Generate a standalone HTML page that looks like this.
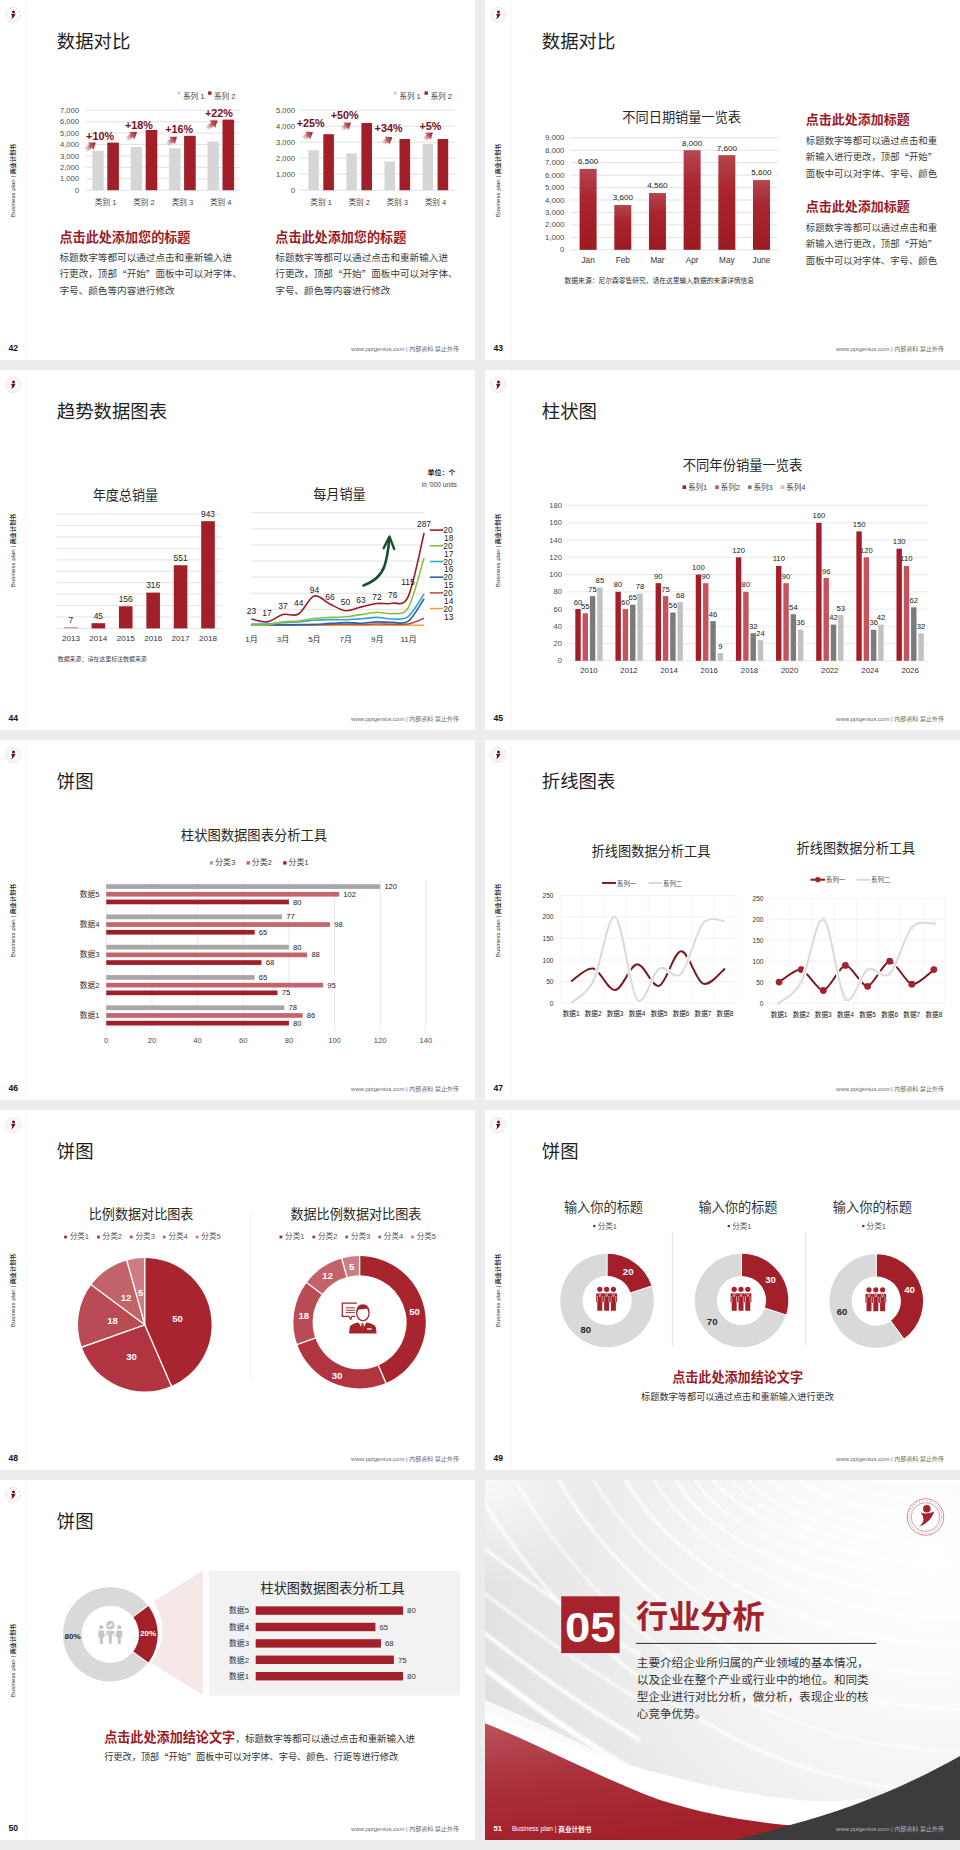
<!DOCTYPE html>
<html><head><meta charset="utf-8"><title>Slides</title>
<style>
html,body{margin:0;padding:0;background:#ececec;}
body{width:960px;height:1850px;overflow:hidden;position:relative;}
svg{position:absolute;left:0;top:0;}
text{font-family:'Liberation Sans','Noto Sans CJK SC',sans-serif;}
</style></head><body>
<svg width="960" height="1850" viewBox="0 0 960 1850">
<defs><linearGradient id="ag1" gradientUnits="userSpaceOnUse" x1="85.0" y1="150.6" x2="95.8" y2="142.6"><stop offset="0" stop-color="#c0505a" stop-opacity="0"/><stop offset="0.5" stop-color="#b63a44" stop-opacity="0.8"/><stop offset="1" stop-color="#8f1820"/></linearGradient><linearGradient id="ag2" gradientUnits="userSpaceOnUse" x1="126.0" y1="139.8" x2="137.0" y2="131.9"><stop offset="0" stop-color="#c0505a" stop-opacity="0"/><stop offset="0.5" stop-color="#b63a44" stop-opacity="0.8"/><stop offset="1" stop-color="#8f1820"/></linearGradient><linearGradient id="ag3" gradientUnits="userSpaceOnUse" x1="166.5" y1="144.6" x2="177.0" y2="136.7"><stop offset="0" stop-color="#c0505a" stop-opacity="0"/><stop offset="0.5" stop-color="#b63a44" stop-opacity="0.8"/><stop offset="1" stop-color="#8f1820"/></linearGradient><linearGradient id="ag4" gradientUnits="userSpaceOnUse" x1="206.0" y1="128.8" x2="217.6" y2="120.6"><stop offset="0" stop-color="#c0505a" stop-opacity="0"/><stop offset="0.5" stop-color="#b63a44" stop-opacity="0.8"/><stop offset="1" stop-color="#8f1820"/></linearGradient><linearGradient id="ag5" gradientUnits="userSpaceOnUse" x1="302.5" y1="138.5" x2="313.0" y2="132.3"><stop offset="0" stop-color="#c0505a" stop-opacity="0"/><stop offset="0.5" stop-color="#b63a44" stop-opacity="0.8"/><stop offset="1" stop-color="#8f1820"/></linearGradient><linearGradient id="ag6" gradientUnits="userSpaceOnUse" x1="341.5" y1="129.5" x2="351.0" y2="122.7"><stop offset="0" stop-color="#c0505a" stop-opacity="0"/><stop offset="0.5" stop-color="#b63a44" stop-opacity="0.8"/><stop offset="1" stop-color="#8f1820"/></linearGradient><linearGradient id="ag7" gradientUnits="userSpaceOnUse" x1="382.3" y1="143.3" x2="392.4" y2="137.3"><stop offset="0" stop-color="#c0505a" stop-opacity="0"/><stop offset="0.5" stop-color="#b63a44" stop-opacity="0.8"/><stop offset="1" stop-color="#8f1820"/></linearGradient><linearGradient id="ag8" gradientUnits="userSpaceOnUse" x1="423.8" y1="139.8" x2="432.8" y2="132.5"><stop offset="0" stop-color="#c0505a" stop-opacity="0"/><stop offset="0.5" stop-color="#b63a44" stop-opacity="0.8"/><stop offset="1" stop-color="#8f1820"/></linearGradient><linearGradient id="bar43" x1="0" y1="0" x2="0" y2="1"><stop offset="0" stop-color="#b4464f"/><stop offset="0.35" stop-color="#a9262f"/><stop offset="1" stop-color="#9d1a23"/></linearGradient><radialGradient id="bg51" cx="930" cy="1560" r="470" gradientUnits="userSpaceOnUse"><stop offset="0" stop-color="#ffffff"/><stop offset="0.3" stop-color="#fafafa"/><stop offset="0.65" stop-color="#eeeeee"/><stop offset="1" stop-color="#e0e0e0"/></radialGradient><linearGradient id="red51" x1="0" y1="0" x2="0.35" y2="1"><stop offset="0" stop-color="#b9525a"/><stop offset="0.5" stop-color="#aa303a"/><stop offset="1" stop-color="#a2202a"/></linearGradient><linearGradient id="wsw" x1="0" y1="0" x2="1" y2="0"><stop offset="0" stop-color="#fff" stop-opacity="0.3"/><stop offset="0.5" stop-color="#fff" stop-opacity="1"/><stop offset="1" stop-color="#fff" stop-opacity="1"/></linearGradient><clipPath id="c51"><rect x="485" y="1480" width="475" height="360"/></clipPath><radialGradient id="tl51" cx="490" cy="1478" r="110" gradientUnits="userSpaceOnUse"><stop offset="0" stop-color="#fafafa" stop-opacity="0.95"/><stop offset="1" stop-color="#fafafa" stop-opacity="0"/></radialGradient><filter id="blur51" x="-10%" y="-10%" width="120%" height="120%"><feGaussianBlur stdDeviation="0.9"/></filter></defs>
<rect x="0" y="0" width="475" height="360" fill="#fff"/><rect x="485" y="0" width="475" height="360" fill="#fff"/><rect x="0" y="370" width="475" height="360" fill="#fff"/><rect x="485" y="370" width="475" height="360" fill="#fff"/><rect x="0" y="740" width="475" height="360" fill="#fff"/><rect x="485" y="740" width="475" height="360" fill="#fff"/><rect x="0" y="1110" width="475" height="360" fill="#fff"/><rect x="485" y="1110" width="475" height="360" fill="#fff"/><rect x="0" y="1480" width="475" height="360" fill="#fff"/><rect x="485" y="1480" width="475" height="360" fill="#fff"/>
<rect x="25.50" y="0.00" width="1.00" height="360.00" fill="#f6f6f6" />
<g><circle cx="13" cy="15" r="7.4" fill="none" stroke="#bfb2b4" stroke-width="0.7" stroke-dasharray="1.1 0.9"/><circle cx="13" cy="15" r="5.4" fill="none" stroke="#e6c6c9" stroke-width="0.4"/><circle cx="13.5" cy="11.9" r="1.5" fill="#6e1017"/><path d="M10.8 13.7 Q13 14.6 15.6 13.5 Q14.2 18.2 10.7 19.4 Q13.3 17 10.8 13.7Z" fill="#74131a"/></g>
<text transform="translate(12,180.5) rotate(-90)" font-size="6.1" fill="#333" text-anchor="middle" dominant-baseline="central" font-family="'Liberation Sans','Noto Sans CJK SC',sans-serif">Business plan | <tspan font-weight="bold">商业计划书</tspan></text>
<text x="56.8" y="41.6" font-size="18.4" fill="#1e1e1e" text-anchor="start" dominant-baseline="central" >数据对比</text>
<text x="8.5" y="348.4" font-size="8.6" fill="#111" text-anchor="start" dominant-baseline="central" font-weight="bold" >42</text>
<text x="459.0" y="349.0" font-size="6.0" fill="#6a6a6a" text-anchor="end" dominant-baseline="central" >www.pptgenius.com | 内部资料 禁止外传</text>
<line x1="85.90" y1="190.20" x2="239.60" y2="190.20" stroke="#d9d9d9" stroke-width="0.8" />
<text x="79.0" y="190.2" font-size="7.6" fill="#4a4a4a" text-anchor="end" dominant-baseline="central" >0</text>
<line x1="85.90" y1="178.79" x2="239.60" y2="178.79" stroke="#d9d9d9" stroke-width="0.8" />
<text x="79.0" y="178.8" font-size="7.6" fill="#4a4a4a" text-anchor="end" dominant-baseline="central" >1,000</text>
<line x1="85.90" y1="167.37" x2="239.60" y2="167.37" stroke="#d9d9d9" stroke-width="0.8" />
<text x="79.0" y="167.4" font-size="7.6" fill="#4a4a4a" text-anchor="end" dominant-baseline="central" >2,000</text>
<line x1="85.90" y1="155.96" x2="239.60" y2="155.96" stroke="#d9d9d9" stroke-width="0.8" />
<text x="79.0" y="156.0" font-size="7.6" fill="#4a4a4a" text-anchor="end" dominant-baseline="central" >3,000</text>
<line x1="85.90" y1="144.54" x2="239.60" y2="144.54" stroke="#d9d9d9" stroke-width="0.8" />
<text x="79.0" y="144.5" font-size="7.6" fill="#4a4a4a" text-anchor="end" dominant-baseline="central" >4,000</text>
<line x1="85.90" y1="133.13" x2="239.60" y2="133.13" stroke="#d9d9d9" stroke-width="0.8" />
<text x="79.0" y="133.1" font-size="7.6" fill="#4a4a4a" text-anchor="end" dominant-baseline="central" >5,000</text>
<line x1="85.90" y1="121.71" x2="239.60" y2="121.71" stroke="#d9d9d9" stroke-width="0.8" />
<text x="79.0" y="121.7" font-size="7.6" fill="#4a4a4a" text-anchor="end" dominant-baseline="central" >6,000</text>
<line x1="85.90" y1="110.30" x2="239.60" y2="110.30" stroke="#d9d9d9" stroke-width="0.8" />
<text x="79.0" y="110.3" font-size="7.6" fill="#4a4a4a" text-anchor="end" dominant-baseline="central" >7,000</text>
<rect x="92.30" y="150.80" width="11.40" height="39.40" fill="#d6d6d6" />
<rect x="107.30" y="142.60" width="11.60" height="47.60" fill="#a11f29" />
<text x="105.6" y="202.8" font-size="7.6" fill="#444" text-anchor="middle" dominant-baseline="central" >类别 1</text>
<rect x="130.70" y="147.00" width="11.40" height="43.20" fill="#d6d6d6" />
<rect x="145.70" y="130.00" width="11.60" height="60.20" fill="#a11f29" />
<text x="144.0" y="202.8" font-size="7.6" fill="#444" text-anchor="middle" dominant-baseline="central" >类别 2</text>
<rect x="169.10" y="148.30" width="11.40" height="41.90" fill="#d6d6d6" />
<rect x="184.10" y="135.80" width="11.60" height="54.40" fill="#a11f29" />
<text x="182.4" y="202.8" font-size="7.6" fill="#444" text-anchor="middle" dominant-baseline="central" >类别 3</text>
<rect x="207.50" y="141.50" width="11.40" height="48.70" fill="#d6d6d6" />
<rect x="222.50" y="119.60" width="11.60" height="70.60" fill="#a11f29" />
<text x="220.8" y="202.8" font-size="7.6" fill="#444" text-anchor="middle" dominant-baseline="central" >类别 4</text>
<rect x="177.20" y="91.40" width="3.40" height="3.40" fill="#d6d6d6" />
<text x="182.9" y="96.0" font-size="7.6" fill="#444" text-anchor="start" dominant-baseline="central" >系列 1</text>
<rect x="208.10" y="91.40" width="3.40" height="3.40" fill="#a11f29" />
<text x="214.0" y="96.0" font-size="7.6" fill="#444" text-anchor="start" dominant-baseline="central" >系列 2</text>
<polygon points="86.3,152.4 92.1,148.1 93.6,150.1 95.8,142.6 88.0,142.5 89.5,144.5 83.7,148.8" fill="url(#ag1)"/>
<text x="86.1" y="136.1" font-size="10.8" fill="#7a1019" text-anchor="start" dominant-baseline="central" font-weight="bold" >+10%</text>
<polygon points="127.3,141.6 133.2,137.3 134.7,139.3 137.0,131.9 129.2,131.7 130.7,133.7 124.7,138.0" fill="url(#ag2)"/>
<text x="125.0" y="124.6" font-size="10.8" fill="#7a1019" text-anchor="start" dominant-baseline="central" font-weight="bold" >+18%</text>
<polygon points="167.8,146.4 173.4,142.2 174.9,144.2 177.0,136.7 169.2,136.7 170.7,138.7 165.2,142.8" fill="url(#ag3)"/>
<text x="165.3" y="129.0" font-size="10.8" fill="#7a1019" text-anchor="start" dominant-baseline="central" font-weight="bold" >+16%</text>
<polygon points="207.3,130.6 213.8,126.0 215.3,128.0 217.6,120.6 209.8,120.3 211.3,122.4 204.7,127.0" fill="url(#ag4)"/>
<text x="204.9" y="113.2" font-size="10.8" fill="#7a1019" text-anchor="start" dominant-baseline="central" font-weight="bold" >+22%</text>
<line x1="299.80" y1="190.20" x2="454.70" y2="190.20" stroke="#d9d9d9" stroke-width="0.8" />
<text x="295.0" y="190.2" font-size="7.6" fill="#4a4a4a" text-anchor="end" dominant-baseline="central" >0</text>
<line x1="299.80" y1="174.20" x2="454.70" y2="174.20" stroke="#d9d9d9" stroke-width="0.8" />
<text x="295.0" y="174.2" font-size="7.6" fill="#4a4a4a" text-anchor="end" dominant-baseline="central" >1,000</text>
<line x1="299.80" y1="158.20" x2="454.70" y2="158.20" stroke="#d9d9d9" stroke-width="0.8" />
<text x="295.0" y="158.2" font-size="7.6" fill="#4a4a4a" text-anchor="end" dominant-baseline="central" >2,000</text>
<line x1="299.80" y1="142.20" x2="454.70" y2="142.20" stroke="#d9d9d9" stroke-width="0.8" />
<text x="295.0" y="142.2" font-size="7.6" fill="#4a4a4a" text-anchor="end" dominant-baseline="central" >3,000</text>
<line x1="299.80" y1="126.20" x2="454.70" y2="126.20" stroke="#d9d9d9" stroke-width="0.8" />
<text x="295.0" y="126.2" font-size="7.6" fill="#4a4a4a" text-anchor="end" dominant-baseline="central" >4,000</text>
<line x1="299.80" y1="110.20" x2="454.70" y2="110.20" stroke="#d9d9d9" stroke-width="0.8" />
<text x="295.0" y="110.2" font-size="7.6" fill="#4a4a4a" text-anchor="end" dominant-baseline="central" >5,000</text>
<rect x="308.30" y="150.20" width="10.50" height="40.00" fill="#d6d6d6" />
<rect x="323.30" y="134.20" width="10.60" height="56.00" fill="#a11f29" />
<text x="321.1" y="202.8" font-size="7.6" fill="#444" text-anchor="middle" dominant-baseline="central" >类别 1</text>
<rect x="346.40" y="153.40" width="10.50" height="36.80" fill="#d6d6d6" />
<rect x="361.40" y="123.00" width="10.60" height="67.20" fill="#a11f29" />
<text x="359.2" y="202.8" font-size="7.6" fill="#444" text-anchor="middle" dominant-baseline="central" >类别 2</text>
<rect x="384.50" y="161.40" width="10.50" height="28.80" fill="#d6d6d6" />
<rect x="399.50" y="139.00" width="10.60" height="51.20" fill="#a11f29" />
<text x="397.3" y="202.8" font-size="7.6" fill="#444" text-anchor="middle" dominant-baseline="central" >类别 3</text>
<rect x="422.60" y="143.80" width="10.50" height="46.40" fill="#d6d6d6" />
<rect x="437.60" y="139.00" width="10.60" height="51.20" fill="#a11f29" />
<text x="435.4" y="202.8" font-size="7.6" fill="#444" text-anchor="middle" dominant-baseline="central" >类别 4</text>
<rect x="393.60" y="91.40" width="3.40" height="3.40" fill="#d6d6d6" />
<text x="399.3" y="96.0" font-size="7.6" fill="#444" text-anchor="start" dominant-baseline="central" >系列 1</text>
<rect x="424.50" y="91.40" width="3.40" height="3.40" fill="#a11f29" />
<text x="430.4" y="96.0" font-size="7.6" fill="#444" text-anchor="start" dominant-baseline="central" >系列 2</text>
<polygon points="303.6,140.4 308.8,137.3 310.1,139.5 313.0,132.3 305.3,131.4 306.5,133.6 301.4,136.6" fill="url(#ag5)"/>
<text x="296.7" y="123.0" font-size="10.8" fill="#7a1019" text-anchor="start" dominant-baseline="central" font-weight="bold" >+25%</text>
<polygon points="342.8,131.3 347.2,128.1 348.7,130.1 351.0,122.7 343.2,122.5 344.7,124.5 340.2,127.7" fill="url(#ag6)"/>
<text x="330.8" y="115.0" font-size="10.8" fill="#7a1019" text-anchor="start" dominant-baseline="central" font-weight="bold" >+50%</text>
<polygon points="383.4,145.2 388.2,142.4 389.5,144.5 392.4,137.3 384.7,136.4 385.9,138.6 381.2,141.4" fill="url(#ag7)"/>
<text x="374.6" y="127.7" font-size="10.8" fill="#7a1019" text-anchor="start" dominant-baseline="central" font-weight="bold" >+34%</text>
<polygon points="425.2,141.5 429.4,138.1 430.9,140.1 432.8,132.5 425.0,132.8 426.6,134.7 422.4,138.1" fill="url(#ag8)"/>
<text x="419.4" y="126.4" font-size="10.8" fill="#7a1019" text-anchor="start" dominant-baseline="central" font-weight="bold" >+5%</text>
<text x="59.5" y="237.5" font-size="13.1" fill="#9b1c25" text-anchor="start" dominant-baseline="central" font-weight="bold" >点击此处添加您的标题</text>
<text x="59.5" y="257.2" font-size="9.6" fill="#3c3c3c" text-anchor="start" dominant-baseline="central" >标题数字等都可以通过点击和重新输入进</text>
<text x="59.5" y="273.6" font-size="9.6" fill="#3c3c3c" text-anchor="start" dominant-baseline="central" >行更改，顶部<tspan font-family="'Noto Sans CJK SC',sans-serif">“</tspan>开始<tspan font-family="'Noto Sans CJK SC',sans-serif">”</tspan>面板中可以对字体、</text>
<text x="59.5" y="290.0" font-size="9.6" fill="#3c3c3c" text-anchor="start" dominant-baseline="central" >字号、颜色等内容进行修改</text>
<text x="275.3" y="237.5" font-size="13.1" fill="#9b1c25" text-anchor="start" dominant-baseline="central" font-weight="bold" >点击此处添加您的标题</text>
<text x="275.3" y="257.2" font-size="9.6" fill="#3c3c3c" text-anchor="start" dominant-baseline="central" >标题数字等都可以通过点击和重新输入进</text>
<text x="275.3" y="273.6" font-size="9.6" fill="#3c3c3c" text-anchor="start" dominant-baseline="central" >行更改，顶部<tspan font-family="'Noto Sans CJK SC',sans-serif">“</tspan>开始<tspan font-family="'Noto Sans CJK SC',sans-serif">”</tspan>面板中可以对字体、</text>
<text x="275.3" y="290.0" font-size="9.6" fill="#3c3c3c" text-anchor="start" dominant-baseline="central" >字号、颜色等内容进行修改</text>
<rect x="510.50" y="0.00" width="1.00" height="360.00" fill="#f6f6f6" />
<g><circle cx="498" cy="15" r="7.4" fill="none" stroke="#bfb2b4" stroke-width="0.7" stroke-dasharray="1.1 0.9"/><circle cx="498" cy="15" r="5.4" fill="none" stroke="#e6c6c9" stroke-width="0.4"/><circle cx="498.5" cy="11.9" r="1.5" fill="#6e1017"/><path d="M495.8 13.7 Q498 14.6 500.6 13.5 Q499.2 18.2 495.7 19.4 Q498.3 17 495.8 13.7Z" fill="#74131a"/></g>
<text transform="translate(497,180.5) rotate(-90)" font-size="6.1" fill="#333" text-anchor="middle" dominant-baseline="central" font-family="'Liberation Sans','Noto Sans CJK SC',sans-serif">Business plan | <tspan font-weight="bold">商业计划书</tspan></text>
<text x="541.8" y="41.6" font-size="18.4" fill="#1e1e1e" text-anchor="start" dominant-baseline="central" >数据对比</text>
<text x="493.5" y="348.4" font-size="8.6" fill="#111" text-anchor="start" dominant-baseline="central" font-weight="bold" >43</text>
<text x="944.0" y="349.0" font-size="6.0" fill="#6a6a6a" text-anchor="end" dominant-baseline="central" >www.pptgenius.com | 内部资料 禁止外传</text>
<text x="681.7" y="117.0" font-size="13.2" fill="#262626" text-anchor="middle" dominant-baseline="central" >不同日期销量一览表</text>
<line x1="570.60" y1="249.80" x2="777.80" y2="249.80" stroke="#d9d9d9" stroke-width="0.8" />
<text x="564.4" y="249.8" font-size="7.8" fill="#4a4a4a" text-anchor="end" dominant-baseline="central" >0</text>
<line x1="570.60" y1="237.35" x2="777.80" y2="237.35" stroke="#d9d9d9" stroke-width="0.8" />
<text x="564.4" y="237.4" font-size="7.8" fill="#4a4a4a" text-anchor="end" dominant-baseline="central" >1,000</text>
<line x1="570.60" y1="224.90" x2="777.80" y2="224.90" stroke="#d9d9d9" stroke-width="0.8" />
<text x="564.4" y="224.9" font-size="7.8" fill="#4a4a4a" text-anchor="end" dominant-baseline="central" >2,000</text>
<line x1="570.60" y1="212.45" x2="777.80" y2="212.45" stroke="#d9d9d9" stroke-width="0.8" />
<text x="564.4" y="212.5" font-size="7.8" fill="#4a4a4a" text-anchor="end" dominant-baseline="central" >3,000</text>
<line x1="570.60" y1="200.00" x2="777.80" y2="200.00" stroke="#d9d9d9" stroke-width="0.8" />
<text x="564.4" y="200.0" font-size="7.8" fill="#4a4a4a" text-anchor="end" dominant-baseline="central" >4,000</text>
<line x1="570.60" y1="187.55" x2="777.80" y2="187.55" stroke="#d9d9d9" stroke-width="0.8" />
<text x="564.4" y="187.6" font-size="7.8" fill="#4a4a4a" text-anchor="end" dominant-baseline="central" >5,000</text>
<line x1="570.60" y1="175.10" x2="777.80" y2="175.10" stroke="#d9d9d9" stroke-width="0.8" />
<text x="564.4" y="175.1" font-size="7.8" fill="#4a4a4a" text-anchor="end" dominant-baseline="central" >6,000</text>
<line x1="570.60" y1="162.65" x2="777.80" y2="162.65" stroke="#d9d9d9" stroke-width="0.8" />
<text x="564.4" y="162.7" font-size="7.8" fill="#4a4a4a" text-anchor="end" dominant-baseline="central" >7,000</text>
<line x1="570.60" y1="150.20" x2="777.80" y2="150.20" stroke="#d9d9d9" stroke-width="0.8" />
<text x="564.4" y="150.2" font-size="7.8" fill="#4a4a4a" text-anchor="end" dominant-baseline="central" >8,000</text>
<line x1="570.60" y1="137.75" x2="777.80" y2="137.75" stroke="#d9d9d9" stroke-width="0.8" />
<text x="564.4" y="137.8" font-size="7.8" fill="#4a4a4a" text-anchor="end" dominant-baseline="central" >9,000</text>
<rect x="579.60" y="168.88" width="17.00" height="80.93" fill="url(#bar43)" />
<text x="588.1" y="161.7" font-size="8.1" fill="#222" text-anchor="middle" dominant-baseline="central" >6,500</text>
<text x="588.1" y="260.2" font-size="8.2" fill="#333" text-anchor="middle" dominant-baseline="central" >Jan</text>
<rect x="614.28" y="204.98" width="17.00" height="44.82" fill="url(#bar43)" />
<text x="622.8" y="197.8" font-size="8.1" fill="#222" text-anchor="middle" dominant-baseline="central" >3,600</text>
<text x="622.8" y="260.2" font-size="8.2" fill="#333" text-anchor="middle" dominant-baseline="central" >Feb</text>
<rect x="648.96" y="193.03" width="17.00" height="56.77" fill="url(#bar43)" />
<text x="657.5" y="185.8" font-size="8.1" fill="#222" text-anchor="middle" dominant-baseline="central" >4,560</text>
<text x="657.5" y="260.2" font-size="8.2" fill="#333" text-anchor="middle" dominant-baseline="central" >Mar</text>
<rect x="683.64" y="150.20" width="17.00" height="99.60" fill="url(#bar43)" />
<text x="692.1" y="143.0" font-size="8.1" fill="#222" text-anchor="middle" dominant-baseline="central" >8,000</text>
<text x="692.1" y="260.2" font-size="8.2" fill="#333" text-anchor="middle" dominant-baseline="central" >Apr</text>
<rect x="718.32" y="155.18" width="17.00" height="94.62" fill="url(#bar43)" />
<text x="726.8" y="148.0" font-size="8.1" fill="#222" text-anchor="middle" dominant-baseline="central" >7,600</text>
<text x="726.8" y="260.2" font-size="8.2" fill="#333" text-anchor="middle" dominant-baseline="central" >May</text>
<rect x="753.00" y="180.08" width="17.00" height="69.72" fill="url(#bar43)" />
<text x="761.5" y="172.9" font-size="8.1" fill="#222" text-anchor="middle" dominant-baseline="central" >5,600</text>
<text x="761.5" y="260.2" font-size="8.2" fill="#333" text-anchor="middle" dominant-baseline="central" >June</text>
<text x="564.6" y="280.7" font-size="6.77" fill="#333" text-anchor="start" dominant-baseline="central" >数据来源：尼尔森零售研究，请在这里输入数据的来源详情信息</text>
<text x="805.8" y="119.7" font-size="13.0" fill="#9b1c25" text-anchor="start" dominant-baseline="central" font-weight="bold" >点击此处添加标题</text>
<text x="805.8" y="140.0" font-size="9.4" fill="#3c3c3c" text-anchor="start" dominant-baseline="central" >标题数字等都可以通过点击和重</text>
<text x="805.8" y="156.7" font-size="9.4" fill="#3c3c3c" text-anchor="start" dominant-baseline="central" >新输入进行更改，顶部<tspan font-family="'Noto Sans CJK SC',sans-serif">“</tspan>开始<tspan font-family="'Noto Sans CJK SC',sans-serif">”</tspan></text>
<text x="805.8" y="173.3" font-size="9.4" fill="#3c3c3c" text-anchor="start" dominant-baseline="central" >面板中可以对字体、字号、颜色</text>
<text x="805.8" y="206.7" font-size="13.0" fill="#9b1c25" text-anchor="start" dominant-baseline="central" font-weight="bold" >点击此处添加标题</text>
<text x="805.8" y="227.0" font-size="9.4" fill="#3c3c3c" text-anchor="start" dominant-baseline="central" >标题数字等都可以通过点击和重</text>
<text x="805.8" y="243.7" font-size="9.4" fill="#3c3c3c" text-anchor="start" dominant-baseline="central" >新输入进行更改，顶部<tspan font-family="'Noto Sans CJK SC',sans-serif">“</tspan>开始<tspan font-family="'Noto Sans CJK SC',sans-serif">”</tspan></text>
<text x="805.8" y="260.3" font-size="9.4" fill="#3c3c3c" text-anchor="start" dominant-baseline="central" >面板中可以对字体、字号、颜色</text>
<rect x="25.50" y="370.00" width="1.00" height="360.00" fill="#f6f6f6" />
<g><circle cx="13" cy="385" r="7.4" fill="none" stroke="#bfb2b4" stroke-width="0.7" stroke-dasharray="1.1 0.9"/><circle cx="13" cy="385" r="5.4" fill="none" stroke="#e6c6c9" stroke-width="0.4"/><circle cx="13.5" cy="381.9" r="1.5" fill="#6e1017"/><path d="M10.8 383.7 Q13 384.6 15.6 383.5 Q14.2 388.2 10.7 389.4 Q13.3 387 10.8 383.7Z" fill="#74131a"/></g>
<text transform="translate(12,550.5) rotate(-90)" font-size="6.1" fill="#333" text-anchor="middle" dominant-baseline="central" font-family="'Liberation Sans','Noto Sans CJK SC',sans-serif">Business plan | <tspan font-weight="bold">商业计划书</tspan></text>
<text x="56.8" y="411.6" font-size="18.4" fill="#1e1e1e" text-anchor="start" dominant-baseline="central" >趋势数据图表</text>
<text x="8.5" y="718.4" font-size="8.6" fill="#111" text-anchor="start" dominant-baseline="central" font-weight="bold" >44</text>
<text x="459.0" y="719.0" font-size="6.0" fill="#6a6a6a" text-anchor="end" dominant-baseline="central" >www.pptgenius.com | 内部资料 禁止外传</text>
<text x="125.4" y="495.0" font-size="13.1" fill="#262626" text-anchor="middle" dominant-baseline="central" >年度总销量</text>
<line x1="56.60" y1="628.40" x2="221.60" y2="628.40" stroke="#dcdcdc" stroke-width="0.8" />
<line x1="56.60" y1="616.97" x2="221.60" y2="616.97" stroke="#dcdcdc" stroke-width="0.8" />
<line x1="56.60" y1="605.54" x2="221.60" y2="605.54" stroke="#dcdcdc" stroke-width="0.8" />
<line x1="56.60" y1="594.11" x2="221.60" y2="594.11" stroke="#dcdcdc" stroke-width="0.8" />
<line x1="56.60" y1="582.68" x2="221.60" y2="582.68" stroke="#dcdcdc" stroke-width="0.8" />
<line x1="56.60" y1="571.25" x2="221.60" y2="571.25" stroke="#dcdcdc" stroke-width="0.8" />
<line x1="56.60" y1="559.82" x2="221.60" y2="559.82" stroke="#dcdcdc" stroke-width="0.8" />
<line x1="56.60" y1="548.39" x2="221.60" y2="548.39" stroke="#dcdcdc" stroke-width="0.8" />
<line x1="56.60" y1="536.96" x2="221.60" y2="536.96" stroke="#dcdcdc" stroke-width="0.8" />
<line x1="56.60" y1="525.53" x2="221.60" y2="525.53" stroke="#dcdcdc" stroke-width="0.8" />
<line x1="56.60" y1="514.10" x2="221.60" y2="514.10" stroke="#dcdcdc" stroke-width="0.8" />
<rect x="64.10" y="627.00" width="13.60" height="1.40" fill="#c9a0a4" />
<text x="70.9" y="620.0" font-size="8.4" fill="#222" text-anchor="middle" dominant-baseline="central" >7</text>
<text x="70.9" y="638.2" font-size="8.1" fill="#333" text-anchor="middle" dominant-baseline="central" >2013</text>
<rect x="91.52" y="623.20" width="13.60" height="5.20" fill="#a11f29" />
<text x="98.3" y="616.3" font-size="8.4" fill="#222" text-anchor="middle" dominant-baseline="central" >45</text>
<text x="98.3" y="638.2" font-size="8.1" fill="#333" text-anchor="middle" dominant-baseline="central" >2014</text>
<rect x="118.94" y="606.30" width="13.60" height="22.10" fill="#a11f29" />
<text x="125.7" y="598.8" font-size="8.4" fill="#222" text-anchor="middle" dominant-baseline="central" >156</text>
<text x="125.7" y="638.2" font-size="8.1" fill="#333" text-anchor="middle" dominant-baseline="central" >2015</text>
<rect x="146.36" y="592.60" width="13.60" height="35.80" fill="#a11f29" />
<text x="153.2" y="585.3" font-size="8.4" fill="#222" text-anchor="middle" dominant-baseline="central" >316</text>
<text x="153.2" y="638.2" font-size="8.1" fill="#333" text-anchor="middle" dominant-baseline="central" >2016</text>
<rect x="173.78" y="565.25" width="13.60" height="63.15" fill="#a11f29" />
<text x="180.6" y="558.1" font-size="8.4" fill="#222" text-anchor="middle" dominant-baseline="central" >551</text>
<text x="180.6" y="638.2" font-size="8.1" fill="#333" text-anchor="middle" dominant-baseline="central" >2017</text>
<rect x="201.20" y="521.20" width="13.60" height="107.20" fill="#a11f29" />
<text x="208.0" y="513.5" font-size="8.4" fill="#222" text-anchor="middle" dominant-baseline="central" >943</text>
<text x="208.0" y="638.2" font-size="8.1" fill="#333" text-anchor="middle" dominant-baseline="central" >2018</text>
<text x="57.7" y="659.0" font-size="5.95" fill="#444" text-anchor="start" dominant-baseline="central" >数据来源：请在这里标注数据来源</text>
<text x="339.4" y="494.7" font-size="13.1" fill="#262626" text-anchor="middle" dominant-baseline="central" >每月销量</text>
<text x="455.6" y="472.0" font-size="7.0" fill="#222" text-anchor="end" dominant-baseline="central" font-weight="bold" >单位：个</text>
<text x="456.8" y="484.7" font-size="6.6" fill="#444" text-anchor="end" dominant-baseline="central" >in '000 units</text>
<line x1="250.80" y1="625.50" x2="424.50" y2="625.50" stroke="#dcdcdc" stroke-width="0.8" />
<line x1="250.80" y1="609.39" x2="424.50" y2="609.39" stroke="#dcdcdc" stroke-width="0.8" />
<line x1="250.80" y1="593.27" x2="424.50" y2="593.27" stroke="#dcdcdc" stroke-width="0.8" />
<line x1="250.80" y1="577.16" x2="424.50" y2="577.16" stroke="#dcdcdc" stroke-width="0.8" />
<line x1="250.80" y1="561.04" x2="424.50" y2="561.04" stroke="#dcdcdc" stroke-width="0.8" />
<line x1="250.80" y1="544.93" x2="424.50" y2="544.93" stroke="#dcdcdc" stroke-width="0.8" />
<line x1="250.80" y1="528.81" x2="424.50" y2="528.81" stroke="#dcdcdc" stroke-width="0.8" />
<line x1="250.80" y1="512.70" x2="424.50" y2="512.70" stroke="#dcdcdc" stroke-width="0.8" />
<path d="M251.40,625.30 C254.02,625.30 261.87,625.30 267.10,625.30 C272.33,625.30 277.57,625.30 282.80,625.30 C288.03,625.30 293.27,625.30 298.50,625.30 C303.73,625.30 308.97,625.30 314.20,625.30 C319.43,625.30 324.67,625.30 329.90,625.30 C335.13,625.30 340.37,625.30 345.60,625.30 C350.83,625.30 356.07,625.30 361.30,625.30 C366.53,625.30 371.77,625.30 377.00,625.30 C382.23,625.30 387.47,625.30 392.70,625.30 C397.93,625.30 403.17,625.30 408.40,625.30 C413.63,625.30 421.48,625.30 424.10,625.30" fill="none" stroke="#f0a23c" stroke-width="1.6" stroke-linejoin="round"/>
<path d="M251.40,624.80 C254.02,624.80 261.87,624.80 267.10,624.80 C272.33,624.80 277.57,624.83 282.80,624.80 C288.03,624.77 293.27,624.65 298.50,624.60 C303.73,624.55 308.97,624.53 314.20,624.50 C319.43,624.47 324.67,624.45 329.90,624.40 C335.13,624.35 340.37,624.20 345.60,624.20 C350.83,624.20 356.07,624.43 361.30,624.40 C366.53,624.37 371.77,624.03 377.00,624.00 C382.23,623.97 387.47,624.20 392.70,624.20 C397.93,624.20 403.17,624.98 408.40,624.00 C413.63,623.02 421.48,619.25 424.10,618.30" fill="none" stroke="#c0504d" stroke-width="1.6" stroke-linejoin="round"/>
<path d="M251.40,625.00 C254.02,625.00 261.87,625.00 267.10,625.00 C272.33,625.00 277.57,625.03 282.80,625.00 C288.03,624.97 293.27,624.87 298.50,624.80 C303.73,624.73 308.97,624.83 314.20,624.60 C319.43,624.37 324.67,623.73 329.90,623.40 C335.13,623.07 340.37,622.63 345.60,622.60 C350.83,622.57 356.07,623.32 361.30,623.20 C366.53,623.08 371.77,622.03 377.00,621.90 C382.23,621.77 387.47,622.52 392.70,622.40 C397.93,622.28 403.17,625.13 408.40,621.20 C413.63,617.27 421.48,602.53 424.10,598.80" fill="none" stroke="#2a62a8" stroke-width="1.6" stroke-linejoin="round"/>
<path d="M251.40,624.00 C254.02,624.00 261.87,624.23 267.10,624.00 C272.33,623.77 277.57,622.93 282.80,622.60 C288.03,622.27 293.27,622.38 298.50,622.00 C303.73,621.62 308.97,620.70 314.20,620.30 C319.43,619.90 324.67,619.70 329.90,619.60 C335.13,619.50 340.37,619.83 345.60,619.70 C350.83,619.57 356.07,619.18 361.30,618.80 C366.53,618.42 371.77,617.37 377.00,617.40 C382.23,617.43 387.47,619.18 392.70,619.00 C397.93,618.82 403.17,620.48 408.40,616.30 C413.63,612.12 421.48,597.63 424.10,593.90" fill="none" stroke="#35a4d8" stroke-width="1.6" stroke-linejoin="round"/>
<path d="M251.40,625.00 C254.02,625.00 261.87,625.52 267.10,625.00 C272.33,624.48 277.57,622.57 282.80,621.90 C288.03,621.23 293.27,621.57 298.50,621.00 C303.73,620.43 308.97,619.10 314.20,618.50 C319.43,617.90 324.67,617.68 329.90,617.40 C335.13,617.12 340.37,617.27 345.60,616.80 C350.83,616.33 356.07,615.35 361.30,614.60 C366.53,613.85 371.77,612.47 377.00,612.30 C382.23,612.13 387.47,614.43 392.70,613.60 C397.93,612.77 403.17,616.57 408.40,607.30 C413.63,598.03 421.48,566.22 424.10,558.00" fill="none" stroke="#8cbf3f" stroke-width="1.6" stroke-linejoin="round"/>
<path d="M251.40,619.00 C254.02,619.48 261.87,622.65 267.10,621.90 C272.33,621.15 277.57,615.82 282.80,614.50 C288.03,613.18 293.27,617.07 298.50,614.00 C303.73,610.93 308.97,597.77 314.20,596.10 C319.43,594.43 324.67,601.57 329.90,604.00 C335.13,606.43 340.37,610.22 345.60,610.70 C350.83,611.18 356.07,608.10 361.30,606.90 C366.53,605.70 371.77,604.10 377.00,603.50 C382.23,602.90 387.47,604.53 392.70,603.30 C397.93,602.07 403.17,607.82 408.40,596.10 C413.63,584.38 421.48,543.52 424.10,533.00" fill="none" stroke="#9c1b25" stroke-width="1.6" stroke-linejoin="round"/>
<text x="251.5" y="611.0" font-size="8.4" fill="#222" text-anchor="middle" dominant-baseline="central" >23</text>
<text x="267.0" y="612.5" font-size="8.4" fill="#222" text-anchor="middle" dominant-baseline="central" >17</text>
<text x="283.0" y="606.0" font-size="8.4" fill="#222" text-anchor="middle" dominant-baseline="central" >37</text>
<text x="298.7" y="603.0" font-size="8.4" fill="#222" text-anchor="middle" dominant-baseline="central" >44</text>
<text x="314.5" y="589.5" font-size="8.4" fill="#222" text-anchor="middle" dominant-baseline="central" >94</text>
<text x="330.0" y="597.0" font-size="8.4" fill="#222" text-anchor="middle" dominant-baseline="central" >66</text>
<text x="345.4" y="602.0" font-size="8.4" fill="#222" text-anchor="middle" dominant-baseline="central" >50</text>
<text x="361.0" y="600.0" font-size="8.4" fill="#222" text-anchor="middle" dominant-baseline="central" >63</text>
<text x="377.0" y="597.0" font-size="8.4" fill="#222" text-anchor="middle" dominant-baseline="central" >72</text>
<text x="392.7" y="595.0" font-size="8.4" fill="#222" text-anchor="middle" dominant-baseline="central" >76</text>
<text x="408.0" y="581.5" font-size="8.4" fill="#222" text-anchor="middle" dominant-baseline="central" >115</text>
<text x="424.0" y="524.0" font-size="8.4" fill="#222" text-anchor="middle" dominant-baseline="central" >287</text>
<text x="251.6" y="639.2" font-size="8.0" fill="#333" text-anchor="middle" dominant-baseline="central" >1月</text>
<text x="283.0" y="639.2" font-size="8.0" fill="#333" text-anchor="middle" dominant-baseline="central" >3月</text>
<text x="314.4" y="639.2" font-size="8.0" fill="#333" text-anchor="middle" dominant-baseline="central" >5月</text>
<text x="345.8" y="639.2" font-size="8.0" fill="#333" text-anchor="middle" dominant-baseline="central" >7月</text>
<text x="377.2" y="639.2" font-size="8.0" fill="#333" text-anchor="middle" dominant-baseline="central" >9月</text>
<text x="408.6" y="639.2" font-size="8.0" fill="#333" text-anchor="middle" dominant-baseline="central" >11月</text>
<line x1="429.80" y1="530.10" x2="443.40" y2="530.10" stroke="#9c1b25" stroke-width="1.6" />
<text x="443.3" y="530.1" font-size="8.4" fill="#222" text-anchor="start" dominant-baseline="central" >20</text>
<text x="453.3" y="538.0" font-size="8.4" fill="#222" text-anchor="end" dominant-baseline="central" >18</text>
<line x1="429.80" y1="545.80" x2="443.40" y2="545.80" stroke="#8cbf3f" stroke-width="1.6" />
<text x="443.3" y="545.8" font-size="8.4" fill="#222" text-anchor="start" dominant-baseline="central" >20</text>
<text x="453.3" y="553.7" font-size="8.4" fill="#222" text-anchor="end" dominant-baseline="central" >17</text>
<line x1="429.80" y1="561.50" x2="443.40" y2="561.50" stroke="#35a4d8" stroke-width="1.6" />
<text x="443.3" y="561.5" font-size="8.4" fill="#222" text-anchor="start" dominant-baseline="central" >20</text>
<text x="453.3" y="569.4" font-size="8.4" fill="#222" text-anchor="end" dominant-baseline="central" >16</text>
<line x1="429.80" y1="577.20" x2="443.40" y2="577.20" stroke="#2a62a8" stroke-width="1.6" />
<text x="443.3" y="577.2" font-size="8.4" fill="#222" text-anchor="start" dominant-baseline="central" >20</text>
<text x="453.3" y="585.1" font-size="8.4" fill="#222" text-anchor="end" dominant-baseline="central" >15</text>
<line x1="429.80" y1="592.90" x2="443.40" y2="592.90" stroke="#c0504d" stroke-width="1.6" />
<text x="443.3" y="592.9" font-size="8.4" fill="#222" text-anchor="start" dominant-baseline="central" >20</text>
<text x="453.3" y="600.8" font-size="8.4" fill="#222" text-anchor="end" dominant-baseline="central" >14</text>
<line x1="429.80" y1="608.60" x2="443.40" y2="608.60" stroke="#f0a23c" stroke-width="1.6" />
<text x="443.3" y="608.6" font-size="8.4" fill="#222" text-anchor="start" dominant-baseline="central" >20</text>
<text x="453.3" y="616.5" font-size="8.4" fill="#222" text-anchor="end" dominant-baseline="central" >13</text>
<path d="M363.5,585.5 C373,582 381,576 384.5,566 C387,558 388.5,549 389.3,538" fill="none" stroke="#17502a" stroke-width="2.6" stroke-linecap="round"/>
<path d="M383.6,548.3 L389.5,536.6 L394.2,549.0" fill="none" stroke="#17502a" stroke-width="2.4" stroke-linecap="round" stroke-linejoin="round"/>
<rect x="510.50" y="370.00" width="1.00" height="360.00" fill="#f6f6f6" />
<g><circle cx="498" cy="385" r="7.4" fill="none" stroke="#bfb2b4" stroke-width="0.7" stroke-dasharray="1.1 0.9"/><circle cx="498" cy="385" r="5.4" fill="none" stroke="#e6c6c9" stroke-width="0.4"/><circle cx="498.5" cy="381.9" r="1.5" fill="#6e1017"/><path d="M495.8 383.7 Q498 384.6 500.6 383.5 Q499.2 388.2 495.7 389.4 Q498.3 387 495.8 383.7Z" fill="#74131a"/></g>
<text transform="translate(497,550.5) rotate(-90)" font-size="6.1" fill="#333" text-anchor="middle" dominant-baseline="central" font-family="'Liberation Sans','Noto Sans CJK SC',sans-serif">Business plan | <tspan font-weight="bold">商业计划书</tspan></text>
<text x="541.8" y="411.6" font-size="18.4" fill="#1e1e1e" text-anchor="start" dominant-baseline="central" >柱状图</text>
<text x="493.5" y="718.4" font-size="8.6" fill="#111" text-anchor="start" dominant-baseline="central" font-weight="bold" >45</text>
<text x="944.0" y="719.0" font-size="6.0" fill="#6a6a6a" text-anchor="end" dominant-baseline="central" >www.pptgenius.com | 内部资料 禁止外传</text>
<text x="742.6" y="465.6" font-size="13.3" fill="#262626" text-anchor="middle" dominant-baseline="central" >不同年份销量一览表</text>
<rect x="682.50" y="485.40" width="3.60" height="3.60" fill="#a31e28" />
<text x="687.9" y="487.2" font-size="7.6" fill="#444" text-anchor="start" dominant-baseline="central" >系列1</text>
<rect x="715.25" y="485.40" width="3.60" height="3.60" fill="#c4535b" />
<text x="720.6" y="487.2" font-size="7.6" fill="#444" text-anchor="start" dominant-baseline="central" >系列2</text>
<rect x="748.00" y="485.40" width="3.60" height="3.60" fill="#7b7b7b" />
<text x="753.4" y="487.2" font-size="7.6" fill="#444" text-anchor="start" dominant-baseline="central" >系列3</text>
<rect x="780.75" y="485.40" width="3.60" height="3.60" fill="#c2c2c2" />
<text x="786.1" y="487.2" font-size="7.6" fill="#444" text-anchor="start" dominant-baseline="central" >系列4</text>
<line x1="566.70" y1="660.80" x2="928.20" y2="660.80" stroke="#e3e3e3" stroke-width="0.8" />
<text x="562.0" y="660.8" font-size="7.6" fill="#4a4a4a" text-anchor="end" dominant-baseline="central" >0</text>
<line x1="566.70" y1="643.55" x2="928.20" y2="643.55" stroke="#e3e3e3" stroke-width="0.8" />
<text x="562.0" y="643.5" font-size="7.6" fill="#4a4a4a" text-anchor="end" dominant-baseline="central" >20</text>
<line x1="566.70" y1="626.30" x2="928.20" y2="626.30" stroke="#e3e3e3" stroke-width="0.8" />
<text x="562.0" y="626.3" font-size="7.6" fill="#4a4a4a" text-anchor="end" dominant-baseline="central" >40</text>
<line x1="566.70" y1="609.05" x2="928.20" y2="609.05" stroke="#e3e3e3" stroke-width="0.8" />
<text x="562.0" y="609.0" font-size="7.6" fill="#4a4a4a" text-anchor="end" dominant-baseline="central" >60</text>
<line x1="566.70" y1="591.80" x2="928.20" y2="591.80" stroke="#e3e3e3" stroke-width="0.8" />
<text x="562.0" y="591.8" font-size="7.6" fill="#4a4a4a" text-anchor="end" dominant-baseline="central" >80</text>
<line x1="566.70" y1="574.55" x2="928.20" y2="574.55" stroke="#e3e3e3" stroke-width="0.8" />
<text x="562.0" y="574.5" font-size="7.6" fill="#4a4a4a" text-anchor="end" dominant-baseline="central" >100</text>
<line x1="566.70" y1="557.30" x2="928.20" y2="557.30" stroke="#e3e3e3" stroke-width="0.8" />
<text x="562.0" y="557.3" font-size="7.6" fill="#4a4a4a" text-anchor="end" dominant-baseline="central" >120</text>
<line x1="566.70" y1="540.05" x2="928.20" y2="540.05" stroke="#e3e3e3" stroke-width="0.8" />
<text x="562.0" y="540.0" font-size="7.6" fill="#4a4a4a" text-anchor="end" dominant-baseline="central" >140</text>
<line x1="566.70" y1="522.80" x2="928.20" y2="522.80" stroke="#e3e3e3" stroke-width="0.8" />
<text x="562.0" y="522.8" font-size="7.6" fill="#4a4a4a" text-anchor="end" dominant-baseline="central" >160</text>
<line x1="566.70" y1="505.55" x2="928.20" y2="505.55" stroke="#e3e3e3" stroke-width="0.8" />
<text x="562.0" y="505.5" font-size="7.6" fill="#4a4a4a" text-anchor="end" dominant-baseline="central" >180</text>
<rect x="575.30" y="609.05" width="5.40" height="51.75" fill="#a31e28" />
<rect x="582.60" y="613.36" width="5.40" height="47.44" fill="#c4535b" />
<rect x="589.90" y="596.11" width="5.40" height="64.69" fill="#7b7b7b" />
<rect x="597.20" y="587.49" width="5.40" height="73.31" fill="#c2c2c2" />
<text x="578.0" y="602.0" font-size="7.7" fill="#222" text-anchor="middle" dominant-baseline="central" >60</text>
<text x="585.3" y="606.4" font-size="7.7" fill="#222" text-anchor="middle" dominant-baseline="central" >55</text>
<text x="592.6" y="589.1" font-size="7.7" fill="#222" text-anchor="middle" dominant-baseline="central" >75</text>
<text x="599.9" y="580.5" font-size="7.7" fill="#222" text-anchor="middle" dominant-baseline="central" >85</text>
<text x="588.9" y="670.4" font-size="7.8" fill="#333" text-anchor="middle" dominant-baseline="central" >2010</text>
<rect x="615.45" y="591.80" width="5.40" height="69.00" fill="#a31e28" />
<rect x="622.75" y="609.05" width="5.40" height="51.75" fill="#c4535b" />
<rect x="630.05" y="604.74" width="5.40" height="56.06" fill="#7b7b7b" />
<rect x="637.35" y="593.52" width="5.40" height="67.27" fill="#c2c2c2" />
<text x="618.1" y="584.8" font-size="7.7" fill="#222" text-anchor="middle" dominant-baseline="central" >80</text>
<text x="625.4" y="602.0" font-size="7.7" fill="#222" text-anchor="middle" dominant-baseline="central" >60</text>
<text x="632.8" y="597.7" font-size="7.7" fill="#222" text-anchor="middle" dominant-baseline="central" >65</text>
<text x="640.0" y="586.5" font-size="7.7" fill="#222" text-anchor="middle" dominant-baseline="central" >78</text>
<text x="629.0" y="670.4" font-size="7.8" fill="#333" text-anchor="middle" dominant-baseline="central" >2012</text>
<rect x="655.60" y="583.17" width="5.40" height="77.62" fill="#a31e28" />
<rect x="662.90" y="596.11" width="5.40" height="64.69" fill="#c4535b" />
<rect x="670.20" y="612.50" width="5.40" height="48.30" fill="#7b7b7b" />
<rect x="677.50" y="602.15" width="5.40" height="58.65" fill="#c2c2c2" />
<text x="658.3" y="576.2" font-size="7.7" fill="#222" text-anchor="middle" dominant-baseline="central" >90</text>
<text x="665.6" y="589.1" font-size="7.7" fill="#222" text-anchor="middle" dominant-baseline="central" >75</text>
<text x="672.9" y="605.5" font-size="7.7" fill="#222" text-anchor="middle" dominant-baseline="central" >56</text>
<text x="680.2" y="595.1" font-size="7.7" fill="#222" text-anchor="middle" dominant-baseline="central" >68</text>
<text x="669.2" y="670.4" font-size="7.8" fill="#333" text-anchor="middle" dominant-baseline="central" >2014</text>
<rect x="695.75" y="574.55" width="5.40" height="86.25" fill="#a31e28" />
<rect x="703.05" y="583.17" width="5.40" height="77.62" fill="#c4535b" />
<rect x="710.35" y="621.12" width="5.40" height="39.67" fill="#7b7b7b" />
<rect x="717.65" y="653.04" width="5.40" height="7.76" fill="#c2c2c2" />
<text x="698.4" y="567.5" font-size="7.7" fill="#222" text-anchor="middle" dominant-baseline="central" >100</text>
<text x="705.7" y="576.2" font-size="7.7" fill="#222" text-anchor="middle" dominant-baseline="central" >90</text>
<text x="713.0" y="614.1" font-size="7.7" fill="#222" text-anchor="middle" dominant-baseline="central" >46</text>
<text x="720.3" y="646.0" font-size="7.7" fill="#222" text-anchor="middle" dominant-baseline="central" >9</text>
<text x="709.3" y="670.4" font-size="7.8" fill="#333" text-anchor="middle" dominant-baseline="central" >2016</text>
<rect x="735.90" y="557.30" width="5.40" height="103.50" fill="#a31e28" />
<rect x="743.20" y="591.80" width="5.40" height="69.00" fill="#c4535b" />
<rect x="750.50" y="633.20" width="5.40" height="27.60" fill="#7b7b7b" />
<rect x="757.80" y="640.10" width="5.40" height="20.70" fill="#c2c2c2" />
<text x="738.6" y="550.3" font-size="7.7" fill="#222" text-anchor="middle" dominant-baseline="central" >120</text>
<text x="745.9" y="584.8" font-size="7.7" fill="#222" text-anchor="middle" dominant-baseline="central" >80</text>
<text x="753.2" y="626.2" font-size="7.7" fill="#222" text-anchor="middle" dominant-baseline="central" >32</text>
<text x="760.5" y="633.1" font-size="7.7" fill="#222" text-anchor="middle" dominant-baseline="central" >24</text>
<text x="749.5" y="670.4" font-size="7.8" fill="#333" text-anchor="middle" dominant-baseline="central" >2018</text>
<rect x="776.05" y="565.92" width="5.40" height="94.88" fill="#a31e28" />
<rect x="783.35" y="583.17" width="5.40" height="77.62" fill="#c4535b" />
<rect x="790.65" y="614.22" width="5.40" height="46.58" fill="#7b7b7b" />
<rect x="797.95" y="629.75" width="5.40" height="31.05" fill="#c2c2c2" />
<text x="778.8" y="558.9" font-size="7.7" fill="#222" text-anchor="middle" dominant-baseline="central" >110</text>
<text x="786.0" y="576.2" font-size="7.7" fill="#222" text-anchor="middle" dominant-baseline="central" >90</text>
<text x="793.4" y="607.2" font-size="7.7" fill="#222" text-anchor="middle" dominant-baseline="central" >54</text>
<text x="800.6" y="622.8" font-size="7.7" fill="#222" text-anchor="middle" dominant-baseline="central" >36</text>
<text x="789.6" y="670.4" font-size="7.8" fill="#333" text-anchor="middle" dominant-baseline="central" >2020</text>
<rect x="816.20" y="522.80" width="5.40" height="138.00" fill="#a31e28" />
<rect x="823.50" y="578.00" width="5.40" height="82.80" fill="#c4535b" />
<rect x="830.80" y="624.57" width="5.40" height="36.23" fill="#7b7b7b" />
<rect x="838.10" y="615.09" width="5.40" height="45.71" fill="#c2c2c2" />
<text x="818.9" y="515.8" font-size="7.7" fill="#222" text-anchor="middle" dominant-baseline="central" >160</text>
<text x="826.2" y="571.0" font-size="7.7" fill="#222" text-anchor="middle" dominant-baseline="central" >96</text>
<text x="833.5" y="617.6" font-size="7.7" fill="#222" text-anchor="middle" dominant-baseline="central" >42</text>
<text x="840.8" y="608.1" font-size="7.7" fill="#222" text-anchor="middle" dominant-baseline="central" >53</text>
<text x="829.8" y="670.4" font-size="7.8" fill="#333" text-anchor="middle" dominant-baseline="central" >2022</text>
<rect x="856.35" y="531.42" width="5.40" height="129.38" fill="#a31e28" />
<rect x="863.65" y="557.30" width="5.40" height="103.50" fill="#c4535b" />
<rect x="870.95" y="629.75" width="5.40" height="31.05" fill="#7b7b7b" />
<rect x="878.25" y="624.57" width="5.40" height="36.23" fill="#c2c2c2" />
<text x="859.1" y="524.4" font-size="7.7" fill="#222" text-anchor="middle" dominant-baseline="central" >150</text>
<text x="866.4" y="550.3" font-size="7.7" fill="#222" text-anchor="middle" dominant-baseline="central" >120</text>
<text x="873.7" y="622.8" font-size="7.7" fill="#222" text-anchor="middle" dominant-baseline="central" >36</text>
<text x="881.0" y="617.6" font-size="7.7" fill="#222" text-anchor="middle" dominant-baseline="central" >42</text>
<text x="870.0" y="670.4" font-size="7.8" fill="#333" text-anchor="middle" dominant-baseline="central" >2024</text>
<rect x="896.50" y="548.67" width="5.40" height="112.12" fill="#a31e28" />
<rect x="903.80" y="565.92" width="5.40" height="94.88" fill="#c4535b" />
<rect x="911.10" y="607.32" width="5.40" height="53.48" fill="#7b7b7b" />
<rect x="918.40" y="633.20" width="5.40" height="27.60" fill="#c2c2c2" />
<text x="899.2" y="541.7" font-size="7.7" fill="#222" text-anchor="middle" dominant-baseline="central" >130</text>
<text x="906.5" y="558.9" font-size="7.7" fill="#222" text-anchor="middle" dominant-baseline="central" >110</text>
<text x="913.8" y="600.3" font-size="7.7" fill="#222" text-anchor="middle" dominant-baseline="central" >62</text>
<text x="921.1" y="626.2" font-size="7.7" fill="#222" text-anchor="middle" dominant-baseline="central" >32</text>
<text x="910.1" y="670.4" font-size="7.8" fill="#333" text-anchor="middle" dominant-baseline="central" >2026</text>
<rect x="25.50" y="740.00" width="1.00" height="360.00" fill="#f6f6f6" />
<g><circle cx="13" cy="755" r="7.4" fill="none" stroke="#bfb2b4" stroke-width="0.7" stroke-dasharray="1.1 0.9"/><circle cx="13" cy="755" r="5.4" fill="none" stroke="#e6c6c9" stroke-width="0.4"/><circle cx="13.5" cy="751.9" r="1.5" fill="#6e1017"/><path d="M10.8 753.7 Q13 754.6 15.6 753.5 Q14.2 758.2 10.7 759.4 Q13.3 757 10.8 753.7Z" fill="#74131a"/></g>
<text transform="translate(12,920.5) rotate(-90)" font-size="6.1" fill="#333" text-anchor="middle" dominant-baseline="central" font-family="'Liberation Sans','Noto Sans CJK SC',sans-serif">Business plan | <tspan font-weight="bold">商业计划书</tspan></text>
<text x="56.8" y="781.6" font-size="18.4" fill="#1e1e1e" text-anchor="start" dominant-baseline="central" >饼图</text>
<text x="8.5" y="1088.4" font-size="8.6" fill="#111" text-anchor="start" dominant-baseline="central" font-weight="bold" >46</text>
<text x="459.0" y="1089.0" font-size="6.0" fill="#6a6a6a" text-anchor="end" dominant-baseline="central" >www.pptgenius.com | 内部资料 禁止外传</text>
<text x="254.0" y="835.8" font-size="13.3" fill="#262626" text-anchor="middle" dominant-baseline="central" >柱状图数据图表分析工具</text>
<rect x="209.80" y="861.20" width="3.40" height="3.40" fill="#a6a6a6" />
<text x="215.1" y="862.9" font-size="7.9" fill="#444" text-anchor="start" dominant-baseline="central" >分类3</text>
<rect x="246.50" y="861.20" width="3.40" height="3.40" fill="#c4646d" />
<text x="251.8" y="862.9" font-size="7.9" fill="#444" text-anchor="start" dominant-baseline="central" >分类2</text>
<rect x="283.20" y="861.20" width="3.40" height="3.40" fill="#a11d27" />
<text x="288.5" y="862.9" font-size="7.9" fill="#444" text-anchor="start" dominant-baseline="central" >分类1</text>
<line x1="106.25" y1="879.40" x2="106.25" y2="1030.40" stroke="#e4e4e4" stroke-width="0.8" />
<text x="106.2" y="1040.4" font-size="7.6" fill="#4a4a4a" text-anchor="middle" dominant-baseline="central" >0</text>
<line x1="151.91" y1="879.40" x2="151.91" y2="1030.40" stroke="#e4e4e4" stroke-width="0.8" />
<text x="151.9" y="1040.4" font-size="7.6" fill="#4a4a4a" text-anchor="middle" dominant-baseline="central" >20</text>
<line x1="197.57" y1="879.40" x2="197.57" y2="1030.40" stroke="#e4e4e4" stroke-width="0.8" />
<text x="197.6" y="1040.4" font-size="7.6" fill="#4a4a4a" text-anchor="middle" dominant-baseline="central" >40</text>
<line x1="243.23" y1="879.40" x2="243.23" y2="1030.40" stroke="#e4e4e4" stroke-width="0.8" />
<text x="243.2" y="1040.4" font-size="7.6" fill="#4a4a4a" text-anchor="middle" dominant-baseline="central" >60</text>
<line x1="288.89" y1="879.40" x2="288.89" y2="1030.40" stroke="#e4e4e4" stroke-width="0.8" />
<text x="288.9" y="1040.4" font-size="7.6" fill="#4a4a4a" text-anchor="middle" dominant-baseline="central" >80</text>
<line x1="334.55" y1="879.40" x2="334.55" y2="1030.40" stroke="#e4e4e4" stroke-width="0.8" />
<text x="334.5" y="1040.4" font-size="7.6" fill="#4a4a4a" text-anchor="middle" dominant-baseline="central" >100</text>
<line x1="380.21" y1="879.40" x2="380.21" y2="1030.40" stroke="#e4e4e4" stroke-width="0.8" />
<text x="380.2" y="1040.4" font-size="7.6" fill="#4a4a4a" text-anchor="middle" dominant-baseline="central" >120</text>
<line x1="425.87" y1="879.40" x2="425.87" y2="1030.40" stroke="#e4e4e4" stroke-width="0.8" />
<text x="425.9" y="1040.4" font-size="7.6" fill="#4a4a4a" text-anchor="middle" dominant-baseline="central" >140</text>
<rect x="106.25" y="884.20" width="273.96" height="4.70" fill="#a6a6a6" />
<text x="384.4" y="886.6" font-size="7.6" fill="#222" text-anchor="start" dominant-baseline="central" >120</text>
<rect x="106.25" y="891.90" width="232.87" height="4.70" fill="#c4646d" />
<text x="343.3" y="894.3" font-size="7.6" fill="#222" text-anchor="start" dominant-baseline="central" >102</text>
<rect x="106.25" y="899.60" width="182.64" height="4.70" fill="#a11d27" />
<text x="293.1" y="902.0" font-size="7.6" fill="#222" text-anchor="start" dominant-baseline="central" >80</text>
<text x="99.6" y="894.2" font-size="7.75" fill="#333" text-anchor="end" dominant-baseline="central" >数据5</text>
<rect x="106.25" y="914.50" width="175.79" height="4.70" fill="#a6a6a6" />
<text x="286.2" y="916.9" font-size="7.6" fill="#222" text-anchor="start" dominant-baseline="central" >77</text>
<rect x="106.25" y="922.20" width="223.73" height="4.70" fill="#c4646d" />
<text x="334.2" y="924.6" font-size="7.6" fill="#222" text-anchor="start" dominant-baseline="central" >98</text>
<rect x="106.25" y="929.90" width="148.39" height="4.70" fill="#a11d27" />
<text x="258.8" y="932.2" font-size="7.6" fill="#222" text-anchor="start" dominant-baseline="central" >65</text>
<text x="99.6" y="924.5" font-size="7.75" fill="#333" text-anchor="end" dominant-baseline="central" >数据4</text>
<rect x="106.25" y="944.80" width="182.64" height="4.70" fill="#a6a6a6" />
<text x="293.1" y="947.2" font-size="7.6" fill="#222" text-anchor="start" dominant-baseline="central" >80</text>
<rect x="106.25" y="952.50" width="200.90" height="4.70" fill="#c4646d" />
<text x="311.4" y="954.9" font-size="7.6" fill="#222" text-anchor="start" dominant-baseline="central" >88</text>
<rect x="106.25" y="960.20" width="155.24" height="4.70" fill="#a11d27" />
<text x="265.7" y="962.6" font-size="7.6" fill="#222" text-anchor="start" dominant-baseline="central" >68</text>
<text x="99.6" y="954.9" font-size="7.75" fill="#333" text-anchor="end" dominant-baseline="central" >数据3</text>
<rect x="106.25" y="975.10" width="148.39" height="4.70" fill="#a6a6a6" />
<text x="258.8" y="977.5" font-size="7.6" fill="#222" text-anchor="start" dominant-baseline="central" >65</text>
<rect x="106.25" y="982.80" width="216.88" height="4.70" fill="#c4646d" />
<text x="327.3" y="985.2" font-size="7.6" fill="#222" text-anchor="start" dominant-baseline="central" >95</text>
<rect x="106.25" y="990.50" width="171.22" height="4.70" fill="#a11d27" />
<text x="281.7" y="992.9" font-size="7.6" fill="#222" text-anchor="start" dominant-baseline="central" >75</text>
<text x="99.6" y="985.1" font-size="7.75" fill="#333" text-anchor="end" dominant-baseline="central" >数据2</text>
<rect x="106.25" y="1005.40" width="178.07" height="4.70" fill="#a6a6a6" />
<text x="288.5" y="1007.8" font-size="7.6" fill="#222" text-anchor="start" dominant-baseline="central" >78</text>
<rect x="106.25" y="1013.10" width="196.34" height="4.70" fill="#c4646d" />
<text x="306.8" y="1015.5" font-size="7.6" fill="#222" text-anchor="start" dominant-baseline="central" >86</text>
<rect x="106.25" y="1020.80" width="182.64" height="4.70" fill="#a11d27" />
<text x="293.1" y="1023.2" font-size="7.6" fill="#222" text-anchor="start" dominant-baseline="central" >80</text>
<text x="99.6" y="1015.5" font-size="7.75" fill="#333" text-anchor="end" dominant-baseline="central" >数据1</text>
<rect x="510.50" y="740.00" width="1.00" height="360.00" fill="#f6f6f6" />
<g><circle cx="498" cy="755" r="7.4" fill="none" stroke="#bfb2b4" stroke-width="0.7" stroke-dasharray="1.1 0.9"/><circle cx="498" cy="755" r="5.4" fill="none" stroke="#e6c6c9" stroke-width="0.4"/><circle cx="498.5" cy="751.9" r="1.5" fill="#6e1017"/><path d="M495.8 753.7 Q498 754.6 500.6 753.5 Q499.2 758.2 495.7 759.4 Q498.3 757 495.8 753.7Z" fill="#74131a"/></g>
<text transform="translate(497,920.5) rotate(-90)" font-size="6.1" fill="#333" text-anchor="middle" dominant-baseline="central" font-family="'Liberation Sans','Noto Sans CJK SC',sans-serif">Business plan | <tspan font-weight="bold">商业计划书</tspan></text>
<text x="541.8" y="781.6" font-size="18.4" fill="#1e1e1e" text-anchor="start" dominant-baseline="central" >折线图表</text>
<text x="493.5" y="1088.4" font-size="8.6" fill="#111" text-anchor="start" dominant-baseline="central" font-weight="bold" >47</text>
<text x="944.0" y="1089.0" font-size="6.0" fill="#6a6a6a" text-anchor="end" dominant-baseline="central" >www.pptgenius.com | 内部资料 禁止外传</text>
<text x="651.0" y="851.3" font-size="13.2" fill="#262626" text-anchor="middle" dominant-baseline="central" >折线图数据分析工具</text>
<line x1="602.00" y1="883.00" x2="616.00" y2="883.00" stroke="#8c1a22" stroke-width="2" />
<text x="617.0" y="883.0" font-size="6.4" fill="#444" text-anchor="start" dominant-baseline="central" >系列一</text>
<line x1="648.70" y1="883.00" x2="662.00" y2="883.00" stroke="#d9d9d9" stroke-width="2" />
<text x="663.0" y="883.0" font-size="6.4" fill="#444" text-anchor="start" dominant-baseline="central" >系列二</text>
<line x1="560.20" y1="1003.00" x2="736.00" y2="1003.00" stroke="#ededed" stroke-width="0.7" />
<text x="553.5" y="1003.0" font-size="6.6" fill="#333" text-anchor="end" dominant-baseline="central" >0</text>
<line x1="560.20" y1="981.48" x2="736.00" y2="981.48" stroke="#ededed" stroke-width="0.7" />
<text x="553.5" y="981.5" font-size="6.6" fill="#333" text-anchor="end" dominant-baseline="central" >50</text>
<line x1="560.20" y1="959.96" x2="736.00" y2="959.96" stroke="#ededed" stroke-width="0.7" />
<text x="553.5" y="960.0" font-size="6.6" fill="#333" text-anchor="end" dominant-baseline="central" >100</text>
<line x1="560.20" y1="938.44" x2="736.00" y2="938.44" stroke="#ededed" stroke-width="0.7" />
<text x="553.5" y="938.4" font-size="6.6" fill="#333" text-anchor="end" dominant-baseline="central" >150</text>
<line x1="560.20" y1="916.92" x2="736.00" y2="916.92" stroke="#ededed" stroke-width="0.7" />
<text x="553.5" y="916.9" font-size="6.6" fill="#333" text-anchor="end" dominant-baseline="central" >200</text>
<line x1="560.20" y1="895.40" x2="736.00" y2="895.40" stroke="#ededed" stroke-width="0.7" />
<text x="553.5" y="895.4" font-size="6.6" fill="#333" text-anchor="end" dominant-baseline="central" >250</text>
<line x1="560.20" y1="895.40" x2="560.20" y2="1003.00" stroke="#f0f0f0" stroke-width="0.7" />
<line x1="582.18" y1="895.40" x2="582.18" y2="1003.00" stroke="#f0f0f0" stroke-width="0.7" />
<line x1="604.15" y1="895.40" x2="604.15" y2="1003.00" stroke="#f0f0f0" stroke-width="0.7" />
<line x1="626.12" y1="895.40" x2="626.12" y2="1003.00" stroke="#f0f0f0" stroke-width="0.7" />
<line x1="648.10" y1="895.40" x2="648.10" y2="1003.00" stroke="#f0f0f0" stroke-width="0.7" />
<line x1="670.08" y1="895.40" x2="670.08" y2="1003.00" stroke="#f0f0f0" stroke-width="0.7" />
<line x1="692.05" y1="895.40" x2="692.05" y2="1003.00" stroke="#f0f0f0" stroke-width="0.7" />
<line x1="714.02" y1="895.40" x2="714.02" y2="1003.00" stroke="#f0f0f0" stroke-width="0.7" />
<line x1="736.00" y1="895.40" x2="736.00" y2="1003.00" stroke="#f0f0f0" stroke-width="0.7" />
<path d="M571.19,981.48 C574.85,979.33 585.84,967.13 593.16,968.57 C600.49,970.00 607.81,990.81 615.14,990.09 C622.46,989.37 629.79,964.98 637.11,964.26 C644.44,963.55 651.76,987.94 659.09,985.78 C666.41,983.63 673.74,951.71 681.06,951.35 C688.39,950.99 695.71,980.76 703.04,983.63 C710.36,986.50 721.35,971.08 725.01,968.57" fill="none" stroke="#7e1720" stroke-width="2" stroke-linejoin="round"/>
<path d="M571.19,1003.00 C574.85,999.41 585.84,995.83 593.16,981.48 C600.49,967.13 607.81,913.91 615.14,916.92 C622.46,919.93 629.79,990.95 637.11,999.56 C644.44,1008.16 651.76,972.87 659.09,968.57 C666.41,964.26 673.74,981.26 681.06,973.73 C688.39,966.20 695.71,932.13 703.04,923.38 C710.36,914.62 721.35,921.58 725.01,921.22" fill="none" stroke="#fff" stroke-width="4.2"/>
<path d="M571.19,1003.00 C574.85,999.41 585.84,995.83 593.16,981.48 C600.49,967.13 607.81,913.91 615.14,916.92 C622.46,919.93 629.79,990.95 637.11,999.56 C644.44,1008.16 651.76,972.87 659.09,968.57 C666.41,964.26 673.74,981.26 681.06,973.73 C688.39,966.20 695.71,932.13 703.04,923.38 C710.36,914.62 721.35,921.58 725.01,921.22" fill="none" stroke="#dadada" stroke-width="2"/>
<text x="571.2" y="1013.6" font-size="6.6" fill="#222" text-anchor="middle" dominant-baseline="central" >数据1</text>
<text x="593.2" y="1013.6" font-size="6.6" fill="#222" text-anchor="middle" dominant-baseline="central" >数据2</text>
<text x="615.1" y="1013.6" font-size="6.6" fill="#222" text-anchor="middle" dominant-baseline="central" >数据3</text>
<text x="637.1" y="1013.6" font-size="6.6" fill="#222" text-anchor="middle" dominant-baseline="central" >数据4</text>
<text x="659.1" y="1013.6" font-size="6.6" fill="#222" text-anchor="middle" dominant-baseline="central" >数据5</text>
<text x="681.1" y="1013.6" font-size="6.6" fill="#222" text-anchor="middle" dominant-baseline="central" >数据6</text>
<text x="703.0" y="1013.6" font-size="6.6" fill="#222" text-anchor="middle" dominant-baseline="central" >数据7</text>
<text x="725.0" y="1013.6" font-size="6.6" fill="#222" text-anchor="middle" dominant-baseline="central" >数据8</text>
<text x="855.9" y="848.0" font-size="13.2" fill="#262626" text-anchor="middle" dominant-baseline="central" >折线图数据分析工具</text>
<line x1="810.50" y1="879.70" x2="825.00" y2="879.70" stroke="#8c1a22" stroke-width="2" />
<circle cx="817.8" cy="879.7" r="2.6" fill="#a3222c"/>
<text x="826.0" y="879.7" font-size="6.4" fill="#444" text-anchor="start" dominant-baseline="central" >系列一</text>
<line x1="856.50" y1="879.70" x2="870.00" y2="879.70" stroke="#d9d9d9" stroke-width="2" />
<circle cx="863.2" cy="879.7" r="1.8" fill="#e0e0e0"/>
<text x="871.0" y="879.7" font-size="6.4" fill="#444" text-anchor="start" dominant-baseline="central" >系列二</text>
<line x1="768.00" y1="1003.10" x2="945.00" y2="1003.10" stroke="#ededed" stroke-width="0.7" />
<text x="763.5" y="1003.1" font-size="6.6" fill="#333" text-anchor="end" dominant-baseline="central" >0</text>
<line x1="768.00" y1="982.14" x2="945.00" y2="982.14" stroke="#ededed" stroke-width="0.7" />
<text x="763.5" y="982.1" font-size="6.6" fill="#333" text-anchor="end" dominant-baseline="central" >50</text>
<line x1="768.00" y1="961.18" x2="945.00" y2="961.18" stroke="#ededed" stroke-width="0.7" />
<text x="763.5" y="961.2" font-size="6.6" fill="#333" text-anchor="end" dominant-baseline="central" >100</text>
<line x1="768.00" y1="940.22" x2="945.00" y2="940.22" stroke="#ededed" stroke-width="0.7" />
<text x="763.5" y="940.2" font-size="6.6" fill="#333" text-anchor="end" dominant-baseline="central" >150</text>
<line x1="768.00" y1="919.26" x2="945.00" y2="919.26" stroke="#ededed" stroke-width="0.7" />
<text x="763.5" y="919.3" font-size="6.6" fill="#333" text-anchor="end" dominant-baseline="central" >200</text>
<line x1="768.00" y1="898.30" x2="945.00" y2="898.30" stroke="#ededed" stroke-width="0.7" />
<text x="763.5" y="898.3" font-size="6.6" fill="#333" text-anchor="end" dominant-baseline="central" >250</text>
<line x1="768.00" y1="898.30" x2="768.00" y2="1003.10" stroke="#f0f0f0" stroke-width="0.7" />
<line x1="790.12" y1="898.30" x2="790.12" y2="1003.10" stroke="#f0f0f0" stroke-width="0.7" />
<line x1="812.25" y1="898.30" x2="812.25" y2="1003.10" stroke="#f0f0f0" stroke-width="0.7" />
<line x1="834.38" y1="898.30" x2="834.38" y2="1003.10" stroke="#f0f0f0" stroke-width="0.7" />
<line x1="856.50" y1="898.30" x2="856.50" y2="1003.10" stroke="#f0f0f0" stroke-width="0.7" />
<line x1="878.62" y1="898.30" x2="878.62" y2="1003.10" stroke="#f0f0f0" stroke-width="0.7" />
<line x1="900.75" y1="898.30" x2="900.75" y2="1003.10" stroke="#f0f0f0" stroke-width="0.7" />
<line x1="922.88" y1="898.30" x2="922.88" y2="1003.10" stroke="#f0f0f0" stroke-width="0.7" />
<line x1="945.00" y1="898.30" x2="945.00" y2="1003.10" stroke="#f0f0f0" stroke-width="0.7" />
<path d="M779.06,982.14 C781.94,980.51 795.43,968.47 801.19,969.56 C806.94,970.65 817.56,991.07 823.31,990.52 C829.07,989.98 839.68,965.92 845.44,965.37 C851.19,964.83 861.81,986.88 867.56,986.33 C873.32,985.79 883.93,961.45 889.69,961.18 C895.44,960.91 906.06,983.15 911.81,984.24 C917.57,985.33 931.06,971.47 933.94,969.56" fill="none" stroke="#7e1720" stroke-width="2" stroke-linejoin="round"/>
<circle cx="779.1" cy="982.1" r="3.4" fill="#a3232d"/>
<circle cx="801.2" cy="969.6" r="3.4" fill="#a3232d"/>
<circle cx="823.3" cy="990.5" r="3.4" fill="#a3232d"/>
<circle cx="845.4" cy="965.4" r="3.4" fill="#a3232d"/>
<circle cx="867.6" cy="986.3" r="3.4" fill="#a3232d"/>
<circle cx="889.7" cy="961.2" r="3.4" fill="#a3232d"/>
<circle cx="911.8" cy="984.2" r="3.4" fill="#a3232d"/>
<circle cx="933.9" cy="969.6" r="3.4" fill="#a3232d"/>
<path d="M779.06,1003.10 C782.75,999.61 793.81,996.11 801.19,982.14 C808.56,968.17 815.94,916.47 823.31,919.26 C830.69,922.05 838.06,990.52 845.44,998.91 C852.81,1007.29 860.19,973.76 867.56,969.56 C874.94,965.37 882.31,980.74 889.69,973.76 C897.06,966.77 904.44,936.03 911.81,927.64 C919.19,919.26 930.25,924.15 933.94,923.45" fill="none" stroke="#fff" stroke-width="4.2"/>
<path d="M779.06,1003.10 C782.75,999.61 793.81,996.11 801.19,982.14 C808.56,968.17 815.94,916.47 823.31,919.26 C830.69,922.05 838.06,990.52 845.44,998.91 C852.81,1007.29 860.19,973.76 867.56,969.56 C874.94,965.37 882.31,980.74 889.69,973.76 C897.06,966.77 904.44,936.03 911.81,927.64 C919.19,919.26 930.25,924.15 933.94,923.45" fill="none" stroke="#dadada" stroke-width="2"/>
<circle cx="779.1" cy="1003.1" r="2.2" fill="#e4e4e4"/>
<circle cx="801.2" cy="982.1" r="2.2" fill="#e4e4e4"/>
<circle cx="823.3" cy="919.3" r="2.2" fill="#e4e4e4"/>
<circle cx="845.4" cy="998.9" r="2.2" fill="#e4e4e4"/>
<circle cx="867.6" cy="969.6" r="2.2" fill="#e4e4e4"/>
<circle cx="889.7" cy="973.8" r="2.2" fill="#e4e4e4"/>
<circle cx="911.8" cy="927.6" r="2.2" fill="#e4e4e4"/>
<circle cx="933.9" cy="923.5" r="2.2" fill="#e4e4e4"/>
<text x="779.1" y="1014.0" font-size="6.6" fill="#222" text-anchor="middle" dominant-baseline="central" >数据1</text>
<text x="801.2" y="1014.0" font-size="6.6" fill="#222" text-anchor="middle" dominant-baseline="central" >数据2</text>
<text x="823.3" y="1014.0" font-size="6.6" fill="#222" text-anchor="middle" dominant-baseline="central" >数据3</text>
<text x="845.4" y="1014.0" font-size="6.6" fill="#222" text-anchor="middle" dominant-baseline="central" >数据4</text>
<text x="867.6" y="1014.0" font-size="6.6" fill="#222" text-anchor="middle" dominant-baseline="central" >数据5</text>
<text x="889.7" y="1014.0" font-size="6.6" fill="#222" text-anchor="middle" dominant-baseline="central" >数据6</text>
<text x="911.8" y="1014.0" font-size="6.6" fill="#222" text-anchor="middle" dominant-baseline="central" >数据7</text>
<text x="933.9" y="1014.0" font-size="6.6" fill="#222" text-anchor="middle" dominant-baseline="central" >数据8</text>
<rect x="25.50" y="1110.00" width="1.00" height="360.00" fill="#f6f6f6" />
<g><circle cx="13" cy="1125" r="7.4" fill="none" stroke="#bfb2b4" stroke-width="0.7" stroke-dasharray="1.1 0.9"/><circle cx="13" cy="1125" r="5.4" fill="none" stroke="#e6c6c9" stroke-width="0.4"/><circle cx="13.5" cy="1121.9" r="1.5" fill="#6e1017"/><path d="M10.8 1123.7 Q13 1124.6 15.6 1123.5 Q14.2 1128.2 10.7 1129.4 Q13.3 1127 10.8 1123.7Z" fill="#74131a"/></g>
<text transform="translate(12,1290.5) rotate(-90)" font-size="6.1" fill="#333" text-anchor="middle" dominant-baseline="central" font-family="'Liberation Sans','Noto Sans CJK SC',sans-serif">Business plan | <tspan font-weight="bold">商业计划书</tspan></text>
<text x="56.8" y="1151.6" font-size="18.4" fill="#1e1e1e" text-anchor="start" dominant-baseline="central" >饼图</text>
<text x="8.5" y="1458.4" font-size="8.6" fill="#111" text-anchor="start" dominant-baseline="central" font-weight="bold" >48</text>
<text x="459.0" y="1459.0" font-size="6.0" fill="#6a6a6a" text-anchor="end" dominant-baseline="central" >www.pptgenius.com | 内部资料 禁止外传</text>
<text x="141.1" y="1214.6" font-size="13.1" fill="#262626" text-anchor="middle" dominant-baseline="central" >比例数据对比图表</text>
<rect x="64.10" y="1235.60" width="2.80" height="2.80" fill="#a8252f" />
<text x="69.7" y="1236.9" font-size="7.6" fill="#555" text-anchor="start" dominant-baseline="central" >分类1</text>
<rect x="97.00" y="1235.60" width="2.80" height="2.80" fill="#b03540" />
<text x="102.6" y="1236.9" font-size="7.6" fill="#555" text-anchor="start" dominant-baseline="central" >分类2</text>
<rect x="129.90" y="1235.60" width="2.80" height="2.80" fill="#b84b54" />
<text x="135.5" y="1236.9" font-size="7.6" fill="#555" text-anchor="start" dominant-baseline="central" >分类3</text>
<rect x="162.80" y="1235.60" width="2.80" height="2.80" fill="#c2636a" />
<text x="168.4" y="1236.9" font-size="7.6" fill="#555" text-anchor="start" dominant-baseline="central" >分类4</text>
<rect x="195.70" y="1235.60" width="2.80" height="2.80" fill="#cb7d83" />
<text x="201.3" y="1236.9" font-size="7.6" fill="#555" text-anchor="start" dominant-baseline="central" >分类5</text>
<text x="355.9" y="1214.6" font-size="13.1" fill="#262626" text-anchor="middle" dominant-baseline="central" >数据比例数据对比图表</text>
<rect x="279.50" y="1235.60" width="2.80" height="2.80" fill="#a8252f" />
<text x="285.1" y="1236.9" font-size="7.6" fill="#555" text-anchor="start" dominant-baseline="central" >分类1</text>
<rect x="312.40" y="1235.60" width="2.80" height="2.80" fill="#b03540" />
<text x="318.0" y="1236.9" font-size="7.6" fill="#555" text-anchor="start" dominant-baseline="central" >分类2</text>
<rect x="345.30" y="1235.60" width="2.80" height="2.80" fill="#b84b54" />
<text x="350.9" y="1236.9" font-size="7.6" fill="#555" text-anchor="start" dominant-baseline="central" >分类3</text>
<rect x="378.20" y="1235.60" width="2.80" height="2.80" fill="#c2636a" />
<text x="383.8" y="1236.9" font-size="7.6" fill="#555" text-anchor="start" dominant-baseline="central" >分类4</text>
<rect x="411.10" y="1235.60" width="2.80" height="2.80" fill="#cb7d83" />
<text x="416.7" y="1236.9" font-size="7.6" fill="#555" text-anchor="start" dominant-baseline="central" >分类5</text>
<path d="M144.80,1324.80 L144.80,1258.00 A66.8,66.8 0 0 1 171.41,1386.07 Z" fill="#a8252f" />
<path d="M144.80,1324.80 L171.41,1386.07 A66.8,66.8 0 0 1 81.86,1347.17 Z" fill="#b03540" />
<path d="M144.80,1324.80 L81.86,1347.17 A66.8,66.8 0 0 1 91.30,1284.80 Z" fill="#b84b54" />
<path d="M144.80,1324.80 L91.30,1284.80 A66.8,66.8 0 0 1 126.78,1260.48 Z" fill="#c2636a" />
<path d="M144.80,1324.80 L126.78,1260.48 A66.8,66.8 0 0 1 144.80,1258.00 Z" fill="#cb7d83" />
<line x1="144.80" y1="1324.80" x2="144.80" y2="1257.00" stroke="#fff" stroke-width="1.4" />
<line x1="144.80" y1="1324.80" x2="171.81" y2="1386.99" stroke="#fff" stroke-width="1.4" />
<line x1="144.80" y1="1324.80" x2="80.91" y2="1347.50" stroke="#fff" stroke-width="1.4" />
<line x1="144.80" y1="1324.80" x2="90.50" y2="1284.20" stroke="#fff" stroke-width="1.4" />
<line x1="144.80" y1="1324.80" x2="126.51" y2="1259.51" stroke="#fff" stroke-width="1.4" />
<text x="177.5" y="1318.6" font-size="9.6" fill="#fff" text-anchor="middle" dominant-baseline="central" font-weight="bold" >50</text>
<text x="131.6" y="1356.6" font-size="9.6" fill="#fff" text-anchor="middle" dominant-baseline="central" font-weight="bold" >30</text>
<text x="112.6" y="1320.6" font-size="9.6" fill="#fff" text-anchor="middle" dominant-baseline="central" font-weight="bold" >18</text>
<text x="126.0" y="1297.7" font-size="9.6" fill="#fff" text-anchor="middle" dominant-baseline="central" font-weight="bold" >12</text>
<text x="140.6" y="1292.2" font-size="9.6" fill="#fff" text-anchor="middle" dominant-baseline="central" font-weight="bold" >5</text>
<path d="M359.60,1256.10 A66.2,66.2 0 0 1 385.97,1383.02 L378.32,1365.41 A47,47 0 0 0 359.60,1275.30 Z" fill="#a8252f" />
<path d="M385.97,1383.02 A66.2,66.2 0 0 1 297.22,1344.47 L315.31,1338.04 A47,47 0 0 0 378.32,1365.41 Z" fill="#b03540" />
<path d="M297.22,1344.47 A66.2,66.2 0 0 1 306.58,1282.66 L321.96,1294.16 A47,47 0 0 0 315.31,1338.04 Z" fill="#b84b54" />
<path d="M306.58,1282.66 A66.2,66.2 0 0 1 341.74,1258.55 L346.92,1277.04 A47,47 0 0 0 321.96,1294.16 Z" fill="#c2636a" />
<path d="M341.74,1258.55 A66.2,66.2 0 0 1 359.60,1256.10 L359.60,1275.30 A47,47 0 0 0 346.92,1277.04 Z" fill="#cb7d83" />
<line x1="359.60" y1="1276.30" x2="359.60" y2="1255.10" stroke="#fff" stroke-width="1.4" />
<line x1="377.93" y1="1364.49" x2="386.37" y2="1383.94" stroke="#fff" stroke-width="1.4" />
<line x1="316.26" y1="1337.70" x2="296.28" y2="1344.80" stroke="#fff" stroke-width="1.4" />
<line x1="322.76" y1="1294.76" x2="305.78" y2="1282.06" stroke="#fff" stroke-width="1.4" />
<line x1="347.19" y1="1278.01" x2="341.47" y2="1257.59" stroke="#fff" stroke-width="1.4" />
<text x="414.6" y="1311.9" font-size="9.6" fill="#fff" text-anchor="middle" dominant-baseline="central" font-weight="bold" >50</text>
<text x="337.0" y="1375.0" font-size="9.6" fill="#fff" text-anchor="middle" dominant-baseline="central" font-weight="bold" >30</text>
<text x="303.8" y="1315.0" font-size="9.6" fill="#fff" text-anchor="middle" dominant-baseline="central" font-weight="bold" >18</text>
<text x="327.7" y="1275.4" font-size="9.6" fill="#fff" text-anchor="middle" dominant-baseline="central" font-weight="bold" >12</text>
<text x="351.7" y="1266.0" font-size="9.6" fill="#fff" text-anchor="middle" dominant-baseline="central" font-weight="bold" >5</text>
<path d="M356.8,1303.1 H342.3 V1316.4 H348.8 L350.8,1319.4 L351.7,1316.4 H355.2" fill="none" stroke="#a3222c" stroke-width="1.25" stroke-linejoin="round"/>
<line x1="345.70" y1="1307.80" x2="354.80" y2="1307.80" stroke="#a3222c" stroke-width="0.95" />
<line x1="345.70" y1="1310.30" x2="354.80" y2="1310.30" stroke="#a3222c" stroke-width="0.95" />
<line x1="345.70" y1="1312.60" x2="354.80" y2="1312.60" stroke="#a3222c" stroke-width="0.95" />
<ellipse cx="362.9" cy="1313.2" rx="6.2" ry="7.5" fill="#fff" stroke="#a3222c" stroke-width="1.3"/>
<path d="M356.5,1312.5 C356,1307 359,1304.2 362.9,1304.2 C367,1304.2 369.6,1307 369.3,1312 C368.5,1309.8 367.8,1309 367,1308.6 C364,1309.6 360,1309.4 357.6,1309.6 C357,1310.6 356.8,1311.5 356.5,1312.5 Z" fill="#a3222c"/>
<path d="M349,1333.6 L349.8,1327 C351,1324.3 355,1323.1 358.6,1322.6 L362.5,1329.4 L366.4,1322.6 C370,1323.1 374.4,1324.3 375.7,1327 L376.7,1333.6 Z" fill="#a3222c"/>
<path d="M361.6,1323.3 L363.4,1323.3 L363.9,1327.6 L362.5,1329.6 L361.1,1327.6 Z" fill="#a3222c"/>
<rect x="367.00" y="1328.30" width="4.60" height="1.30" fill="#fff" />
<line x1="250.60" y1="1212.70" x2="250.60" y2="1379.60" stroke="#efefef" stroke-width="0.9" />
<rect x="510.50" y="1110.00" width="1.00" height="360.00" fill="#f6f6f6" />
<g><circle cx="498" cy="1125" r="7.4" fill="none" stroke="#bfb2b4" stroke-width="0.7" stroke-dasharray="1.1 0.9"/><circle cx="498" cy="1125" r="5.4" fill="none" stroke="#e6c6c9" stroke-width="0.4"/><circle cx="498.5" cy="1121.9" r="1.5" fill="#6e1017"/><path d="M495.8 1123.7 Q498 1124.6 500.6 1123.5 Q499.2 1128.2 495.7 1129.4 Q498.3 1127 495.8 1123.7Z" fill="#74131a"/></g>
<text transform="translate(497,1290.5) rotate(-90)" font-size="6.1" fill="#333" text-anchor="middle" dominant-baseline="central" font-family="'Liberation Sans','Noto Sans CJK SC',sans-serif">Business plan | <tspan font-weight="bold">商业计划书</tspan></text>
<text x="541.8" y="1151.6" font-size="18.4" fill="#1e1e1e" text-anchor="start" dominant-baseline="central" >饼图</text>
<text x="493.5" y="1458.4" font-size="8.6" fill="#111" text-anchor="start" dominant-baseline="central" font-weight="bold" >49</text>
<text x="944.0" y="1459.0" font-size="6.0" fill="#6a6a6a" text-anchor="end" dominant-baseline="central" >www.pptgenius.com | 内部资料 禁止外传</text>
<text x="603.5" y="1207.2" font-size="13.2" fill="#333" text-anchor="middle" dominant-baseline="central" >输入你的标题</text>
<rect x="593.20" y="1224.90" width="2.30" height="2.30" fill="#a11f29" />
<text x="597.7" y="1226.0" font-size="7.6" fill="#555" text-anchor="start" dominant-baseline="central" >分类1</text>
<path d="M607.10,1253.70 A46.8,46.8 0 0 1 651.61,1286.04 L630.50,1292.90 A24.6,24.6 0 0 0 607.10,1275.90 Z" fill="#a31f29" />
<path d="M651.61,1286.04 A46.8,46.8 0 1 1 607.10,1253.70 L607.10,1275.90 A24.6,24.6 0 1 0 630.50,1292.90 Z" fill="#d9d9d9" />
<line x1="607.10" y1="1276.90" x2="607.10" y2="1252.70" stroke="#fff" stroke-width="1.0" />
<line x1="629.54" y1="1293.21" x2="652.56" y2="1285.73" stroke="#fff" stroke-width="1.0" />
<text x="628.2" y="1271.3" font-size="9.6" fill="#fff" text-anchor="middle" dominant-baseline="central" font-weight="bold" >20</text>
<text x="585.8" y="1329.8" font-size="9.6" fill="#262626" text-anchor="middle" dominant-baseline="central" font-weight="bold" >80</text>
<circle cx="599.8" cy="1289.3" r="2.6" fill="#a3222c"/>
<path d="M596.2,1294.3 Q596.2,1293.3 597.2,1293.3 H602.4 Q603.4,1293.3 603.4,1294.3 L603.4,1302.3 H602.3 V1310.7 H597.3 V1302.3 H596.2 Z" fill="#a3222c"/>
<path d="M598.5,1293.3 L599.8,1296.7 L601.1,1293.3" fill="none" stroke="#fff" stroke-width="0.6"/>
<line x1="597.50" y1="1296.00" x2="597.50" y2="1302.30" stroke="#fff" stroke-width="0.5" />
<line x1="602.10" y1="1296.00" x2="602.10" y2="1302.30" stroke="#fff" stroke-width="0.5" />
<circle cx="606.6" cy="1289.3" r="2.6" fill="#a3222c"/>
<path d="M603.0,1294.3 Q603.0,1293.3 604.0,1293.3 H609.2 Q610.2,1293.3 610.2,1294.3 L610.2,1302.3 H609.1 V1310.7 H604.1 V1302.3 H603.0 Z" fill="#a3222c"/>
<path d="M605.3,1293.3 L606.6,1296.7 L607.9,1293.3" fill="none" stroke="#fff" stroke-width="0.6"/>
<line x1="604.30" y1="1296.00" x2="604.30" y2="1302.30" stroke="#fff" stroke-width="0.5" />
<line x1="608.90" y1="1296.00" x2="608.90" y2="1302.30" stroke="#fff" stroke-width="0.5" />
<circle cx="613.4" cy="1289.3" r="2.6" fill="#a3222c"/>
<path d="M609.8,1294.3 Q609.8,1293.3 610.8,1293.3 H616.0 Q617.0,1293.3 617.0,1294.3 L617.0,1302.3 H615.9 V1310.7 H610.9 V1302.3 H609.8 Z" fill="#a3222c"/>
<path d="M612.1,1293.3 L613.4,1296.7 L614.7,1293.3" fill="none" stroke="#fff" stroke-width="0.6"/>
<line x1="611.10" y1="1296.00" x2="611.10" y2="1302.30" stroke="#fff" stroke-width="0.5" />
<line x1="615.70" y1="1296.00" x2="615.70" y2="1302.30" stroke="#fff" stroke-width="0.5" />
<text x="738.0" y="1207.2" font-size="13.2" fill="#333" text-anchor="middle" dominant-baseline="central" >输入你的标题</text>
<rect x="727.70" y="1224.90" width="2.30" height="2.30" fill="#a11f29" />
<text x="732.2" y="1226.0" font-size="7.6" fill="#555" text-anchor="start" dominant-baseline="central" >分类1</text>
<path d="M741.50,1253.70 A46.8,46.8 0 0 1 786.01,1314.96 L764.90,1308.10 A24.6,24.6 0 0 0 741.50,1275.90 Z" fill="#a31f29" />
<path d="M786.01,1314.96 A46.8,46.8 0 1 1 741.50,1253.70 L741.50,1275.90 A24.6,24.6 0 1 0 764.90,1308.10 Z" fill="#d9d9d9" />
<line x1="741.50" y1="1276.90" x2="741.50" y2="1252.70" stroke="#fff" stroke-width="1.0" />
<line x1="763.94" y1="1307.79" x2="786.96" y2="1315.27" stroke="#fff" stroke-width="1.0" />
<text x="770.6" y="1279.4" font-size="9.6" fill="#fff" text-anchor="middle" dominant-baseline="central" font-weight="bold" >30</text>
<text x="712.2" y="1321.8" font-size="9.6" fill="#262626" text-anchor="middle" dominant-baseline="central" font-weight="bold" >70</text>
<circle cx="734.2" cy="1289.3" r="2.6" fill="#a3222c"/>
<path d="M730.6,1294.3 Q730.6,1293.3 731.6,1293.3 H736.8 Q737.8,1293.3 737.8,1294.3 L737.8,1302.3 H736.7 V1310.7 H731.7 V1302.3 H730.6 Z" fill="#a3222c"/>
<path d="M732.9,1293.3 L734.2,1296.7 L735.5,1293.3" fill="none" stroke="#fff" stroke-width="0.6"/>
<line x1="731.90" y1="1296.00" x2="731.90" y2="1302.30" stroke="#fff" stroke-width="0.5" />
<line x1="736.50" y1="1296.00" x2="736.50" y2="1302.30" stroke="#fff" stroke-width="0.5" />
<circle cx="741.0" cy="1289.3" r="2.6" fill="#a3222c"/>
<path d="M737.4,1294.3 Q737.4,1293.3 738.4,1293.3 H743.6 Q744.6,1293.3 744.6,1294.3 L744.6,1302.3 H743.5 V1310.7 H738.5 V1302.3 H737.4 Z" fill="#a3222c"/>
<path d="M739.7,1293.3 L741.0,1296.7 L742.3,1293.3" fill="none" stroke="#fff" stroke-width="0.6"/>
<line x1="738.70" y1="1296.00" x2="738.70" y2="1302.30" stroke="#fff" stroke-width="0.5" />
<line x1="743.30" y1="1296.00" x2="743.30" y2="1302.30" stroke="#fff" stroke-width="0.5" />
<circle cx="747.8" cy="1289.3" r="2.6" fill="#a3222c"/>
<path d="M744.2,1294.3 Q744.2,1293.3 745.2,1293.3 H750.4 Q751.4,1293.3 751.4,1294.3 L751.4,1302.3 H750.3 V1310.7 H745.3 V1302.3 H744.2 Z" fill="#a3222c"/>
<path d="M746.5,1293.3 L747.8,1296.7 L749.1,1293.3" fill="none" stroke="#fff" stroke-width="0.6"/>
<line x1="745.50" y1="1296.00" x2="745.50" y2="1302.30" stroke="#fff" stroke-width="0.5" />
<line x1="750.10" y1="1296.00" x2="750.10" y2="1302.30" stroke="#fff" stroke-width="0.5" />
<text x="872.4" y="1207.2" font-size="13.2" fill="#333" text-anchor="middle" dominant-baseline="central" >输入你的标题</text>
<rect x="862.10" y="1224.90" width="2.30" height="2.30" fill="#a11f29" />
<text x="866.6" y="1226.0" font-size="7.6" fill="#555" text-anchor="start" dominant-baseline="central" >分类1</text>
<path d="M876.30,1254.20 A46.8,46.8 0 0 1 903.81,1338.86 L890.76,1320.90 A24.6,24.6 0 0 0 876.30,1276.40 Z" fill="#a31f29" />
<path d="M903.81,1338.86 A46.8,46.8 0 1 1 876.30,1254.20 L876.30,1276.40 A24.6,24.6 0 1 0 890.76,1320.90 Z" fill="#d9d9d9" />
<line x1="876.30" y1="1277.40" x2="876.30" y2="1253.20" stroke="#fff" stroke-width="1.0" />
<line x1="890.17" y1="1320.09" x2="904.40" y2="1339.67" stroke="#fff" stroke-width="1.0" />
<text x="909.6" y="1289.7" font-size="9.6" fill="#fff" text-anchor="middle" dominant-baseline="central" font-weight="bold" >40</text>
<text x="842.0" y="1311.9" font-size="9.6" fill="#262626" text-anchor="middle" dominant-baseline="central" font-weight="bold" >60</text>
<circle cx="869.0" cy="1289.8" r="2.6" fill="#a3222c"/>
<path d="M865.4,1294.8 Q865.4,1293.8 866.4,1293.8 H871.6 Q872.6,1293.8 872.6,1294.8 L872.6,1302.8 H871.5 V1311.2 H866.5 V1302.8 H865.4 Z" fill="#a3222c"/>
<path d="M867.7,1293.8 L869.0,1297.2 L870.3,1293.8" fill="none" stroke="#fff" stroke-width="0.6"/>
<line x1="866.70" y1="1296.50" x2="866.70" y2="1302.80" stroke="#fff" stroke-width="0.5" />
<line x1="871.30" y1="1296.50" x2="871.30" y2="1302.80" stroke="#fff" stroke-width="0.5" />
<circle cx="875.8" cy="1289.8" r="2.6" fill="#a3222c"/>
<path d="M872.2,1294.8 Q872.2,1293.8 873.2,1293.8 H878.4 Q879.4,1293.8 879.4,1294.8 L879.4,1302.8 H878.3 V1311.2 H873.3 V1302.8 H872.2 Z" fill="#a3222c"/>
<path d="M874.5,1293.8 L875.8,1297.2 L877.1,1293.8" fill="none" stroke="#fff" stroke-width="0.6"/>
<line x1="873.50" y1="1296.50" x2="873.50" y2="1302.80" stroke="#fff" stroke-width="0.5" />
<line x1="878.10" y1="1296.50" x2="878.10" y2="1302.80" stroke="#fff" stroke-width="0.5" />
<circle cx="882.6" cy="1289.8" r="2.6" fill="#a3222c"/>
<path d="M879.0,1294.8 Q879.0,1293.8 880.0,1293.8 H885.2 Q886.2,1293.8 886.2,1294.8 L886.2,1302.8 H885.1 V1311.2 H880.1 V1302.8 H879.0 Z" fill="#a3222c"/>
<path d="M881.3,1293.8 L882.6,1297.2 L883.9,1293.8" fill="none" stroke="#fff" stroke-width="0.6"/>
<line x1="880.30" y1="1296.50" x2="880.30" y2="1302.80" stroke="#fff" stroke-width="0.5" />
<line x1="884.90" y1="1296.50" x2="884.90" y2="1302.80" stroke="#fff" stroke-width="0.5" />
<line x1="672.40" y1="1232.40" x2="672.40" y2="1345.80" stroke="#d9d9d9" stroke-width="0.8" />
<line x1="805.80" y1="1232.40" x2="805.80" y2="1345.80" stroke="#d9d9d9" stroke-width="0.8" />
<text x="737.6" y="1377.4" font-size="13.1" fill="#9b1c25" text-anchor="middle" dominant-baseline="central" font-weight="bold" >点击此处添加结论文字</text>
<text x="737.5" y="1397.4" font-size="9.2" fill="#333" text-anchor="middle" dominant-baseline="central" >标题数字等都可以通过点击和重新输入进行更改</text>
<rect x="25.50" y="1480.00" width="1.00" height="360.00" fill="#f6f6f6" />
<g><circle cx="13" cy="1495" r="7.4" fill="none" stroke="#bfb2b4" stroke-width="0.7" stroke-dasharray="1.1 0.9"/><circle cx="13" cy="1495" r="5.4" fill="none" stroke="#e6c6c9" stroke-width="0.4"/><circle cx="13.5" cy="1491.9" r="1.5" fill="#6e1017"/><path d="M10.8 1493.7 Q13 1494.6 15.6 1493.5 Q14.2 1498.2 10.7 1499.4 Q13.3 1497 10.8 1493.7Z" fill="#74131a"/></g>
<text transform="translate(12,1660.5) rotate(-90)" font-size="6.1" fill="#333" text-anchor="middle" dominant-baseline="central" font-family="'Liberation Sans','Noto Sans CJK SC',sans-serif">Business plan | <tspan font-weight="bold">商业计划书</tspan></text>
<text x="56.8" y="1521.6" font-size="18.4" fill="#1e1e1e" text-anchor="start" dominant-baseline="central" >饼图</text>
<text x="8.5" y="1828.4" font-size="8.6" fill="#111" text-anchor="start" dominant-baseline="central" font-weight="bold" >50</text>
<text x="459.0" y="1829.0" font-size="6.0" fill="#6a6a6a" text-anchor="end" dominant-baseline="central" >www.pptgenius.com | 内部资料 禁止外传</text>
<path d="M153.2,1601.6 L203,1570.3 L203,1695 L150.8,1662.6 A50,50 0 0 0 153.2,1601.6 Z" fill="#f6e7e9"/>
<path d="M147.39,1663.36 A47.2,47.2 0 1 1 147.39,1605.24 L132.74,1616.69 A28.6,28.6 0 1 0 132.74,1651.91 Z" fill="#d9d9d9" />
<path d="M148.46,1605.99 A47.6,47.6 0 0 1 148.46,1662.61 L133.35,1651.43 A28.8,28.8 0 0 0 133.35,1617.17 Z" fill="#a31f29" />
<text x="72.7" y="1636.3" font-size="8.1" fill="#262626" text-anchor="middle" dominant-baseline="central" font-weight="bold" >80%</text>
<text x="148.1" y="1633.7" font-size="8.1" fill="#fff" text-anchor="middle" dominant-baseline="central" font-weight="bold" >20%</text>
<circle cx="110.3" cy="1625.1" r="4.3" fill="#c6c6c6"/>
<path d="M108.39999999999999,1624.9 l1.4,1.5 l2.5,-2.8" fill="none" stroke="#fff" stroke-width="1.1"/>
<path d="M106.3,1630.7 h8 v3 h-2.5 v10 h-3 v-10 h-2.5 z" fill="#c6c6c6"/>
<circle cx="101.3" cy="1627.2" r="2.1" fill="#c6c6c6"/>
<path d="M98.3,1630.5 h6 v7 h-1.5 v6.5 h-3 v-6.5 h-1.5 z" fill="#c6c6c6"/>
<circle cx="119.3" cy="1627.2" r="2.1" fill="#c6c6c6"/>
<path d="M116.3,1630.5 h6 v7 h-1.5 v6.5 h-3 v-6.5 h-1.5 z" fill="#c6c6c6"/>
<line x1="104.30" y1="1635.00" x2="116.30" y2="1635.00" stroke="#c6c6c6" stroke-width="0.9" />
<rect x="209.00" y="1570.70" width="251.10" height="124.80" fill="#f2f2f2" />
<text x="332.6" y="1588.0" font-size="13.1" fill="#262626" text-anchor="middle" dominant-baseline="central" >柱状图数据图表分析工具</text>
<rect x="255.70" y="1606.40" width="147.36" height="8.40" fill="#a31f29" />
<text x="407.1" y="1610.9" font-size="7.8" fill="#333" text-anchor="start" dominant-baseline="central" >80</text>
<text x="249.0" y="1610.9" font-size="7.8" fill="#333" text-anchor="end" dominant-baseline="central" >数据5</text>
<rect x="255.70" y="1622.80" width="119.73" height="8.40" fill="#a31f29" />
<text x="379.4" y="1627.3" font-size="7.8" fill="#333" text-anchor="start" dominant-baseline="central" >65</text>
<text x="249.0" y="1627.3" font-size="7.8" fill="#333" text-anchor="end" dominant-baseline="central" >数据4</text>
<rect x="255.70" y="1639.20" width="125.26" height="8.40" fill="#a31f29" />
<text x="385.0" y="1643.7" font-size="7.8" fill="#333" text-anchor="start" dominant-baseline="central" >68</text>
<text x="249.0" y="1643.7" font-size="7.8" fill="#333" text-anchor="end" dominant-baseline="central" >数据3</text>
<rect x="255.70" y="1655.60" width="138.15" height="8.40" fill="#a31f29" />
<text x="397.9" y="1660.1" font-size="7.8" fill="#333" text-anchor="start" dominant-baseline="central" >75</text>
<text x="249.0" y="1660.1" font-size="7.8" fill="#333" text-anchor="end" dominant-baseline="central" >数据2</text>
<rect x="255.70" y="1672.00" width="147.36" height="8.40" fill="#a31f29" />
<text x="407.1" y="1676.5" font-size="7.8" fill="#333" text-anchor="start" dominant-baseline="central" >80</text>
<text x="249.0" y="1676.5" font-size="7.8" fill="#333" text-anchor="end" dominant-baseline="central" >数据1</text>
<text x="104.2" y="1737.7" font-size="13.1" fill="#9b1c25" text-anchor="start" dominant-baseline="central" font-weight="bold" >点击此处添加结论文字</text>
<text x="235.5" y="1738.4" font-size="9.45" fill="#333" text-anchor="start" dominant-baseline="central" >，标题数字等都可以通过点击和重新输入进</text>
<text x="104.2" y="1757.2" font-size="9.2" fill="#333" text-anchor="start" dominant-baseline="central" >行更改，顶部<tspan font-family="'Noto Sans CJK SC',sans-serif">“</tspan>开始<tspan font-family="'Noto Sans CJK SC',sans-serif">”</tspan>面板中可以对字体、字号、颜色、行距等进行修改</text>
<g clip-path="url(#c51)">
<rect x="485.00" y="1480.00" width="475.00" height="360.00" fill="url(#bg51)" />
<rect x="485.00" y="1480.00" width="200.00" height="140.00" fill="url(#tl51)" />
<g filter="url(#blur51)">
<path d="M470,1479 C569.2,1651.7 740.6,1792.2 962,1792.2" fill="none" stroke="#fff" stroke-width="2.6" stroke-opacity="0.95"/>
<path d="M514,1479 C599.9,1628.7 760.4,1750.5 962,1750.5" fill="none" stroke="#fff" stroke-width="1.8" stroke-opacity="0.95"/>
<path d="M558,1479 C630.6,1605.8 780.2,1708.7 962,1708.7" fill="none" stroke="#fff" stroke-width="2.6" stroke-opacity="0.95"/>
<path d="M593,1479 C655.0,1587.5 796.0,1675.4 962,1675.4" fill="none" stroke="#fff" stroke-width="1.8" stroke-opacity="0.95"/>
<path d="M625,1479 C677.4,1570.8 810.4,1645.0 962,1645.0" fill="none" stroke="#fff" stroke-width="2.6" stroke-opacity="0.95"/>
<path d="M653,1479 C696.9,1556.1 823.0,1618.4 962,1618.4" fill="none" stroke="#fff" stroke-width="1.8" stroke-opacity="0.95"/>
<path d="M675,1479 C712.3,1544.6 832.9,1597.5 962,1597.5" fill="none" stroke="#fff" stroke-width="2.6" stroke-opacity="0.95"/>
<path d="M695,1479 C726.3,1534.2 841.9,1578.5 962,1578.5" fill="none" stroke="#fff" stroke-width="1.8" stroke-opacity="0.95"/>
<path d="M712,1479 C754.2,1526.8 849.5,1565.2 962,1565.2" fill="none" stroke="#fff" stroke-width="2.6" stroke-opacity="0.95"/>
<path d="M730,1479 C767.3,1521.4 857.6,1555.2 962,1555.2" fill="none" stroke="#fff" stroke-width="1.8" stroke-opacity="0.95"/>
<path d="M747,1479 C779.6,1516.2 865.2,1545.9 962,1545.9" fill="none" stroke="#fff" stroke-width="2.6" stroke-opacity="0.95"/>
<path d="M770,1479 C796.4,1509.3 875.6,1533.2 962,1533.2" fill="none" stroke="#fff" stroke-width="1.8" stroke-opacity="0.95"/>
<path d="M800,1479 C818.2,1500.2 889.1,1516.8 962,1516.8" fill="none" stroke="#fff" stroke-width="2.6" stroke-opacity="0.95"/>
<path d="M830,1479 C840.0,1491.1 902.6,1500.2 962,1500.2" fill="none" stroke="#fff" stroke-width="1.8" stroke-opacity="0.95"/>
<path d="M865,1479 C865.5,1480.5 918.4,1481.0 962,1481.0" fill="none" stroke="#fff" stroke-width="2.6" stroke-opacity="0.95"/>
<path d="M480,1545 C520,1575 560,1607 640,1655" fill="none" stroke="#fff" stroke-width="3" stroke-opacity="0.9"/>
<path d="M480,1590 C520,1620 560,1652 640,1700" fill="none" stroke="#fff" stroke-width="2.5" stroke-opacity="0.9"/>
<path d="M480,1630 C520,1660 560,1692 640,1740" fill="none" stroke="#fff" stroke-width="4" stroke-opacity="0.9"/>
<path d="M480,1665 C520,1695 560,1727 640,1775" fill="none" stroke="#fff" stroke-width="6" stroke-opacity="0.9"/>
</g>
<path d="M485,1700 C560,1730 640,1780 760,1810 C830,1826 900,1826 960,1815 L960,1840 L485,1840 Z" fill="#fafafa"/>
<path d="M485,1712 C600,1760 700,1790 800,1800 C860,1806 920,1790 960,1770 L960,1840 L485,1840 Z" fill="#ffffff"/>
<path d="M485,1723.3 C540,1745 600,1778 660,1800 C710,1816 760,1823 798,1826 L742,1840 L485,1840 Z" fill="url(#red51)"/>
<path d="M960,1756 C900,1790 840,1812 790,1825 C770,1831 752,1836 735,1840 L960,1840 Z" fill="#3c3c3c"/>
</g>
<circle cx="925.5" cy="1517" r="18.3" fill="#fff" fill-opacity="0.6" stroke="#a8545b" stroke-width="0.6"/>
<circle cx="925.5" cy="1517" r="14.3" fill="none" stroke="#b5646b" stroke-width="0.6"/>
<circle cx="925.5" cy="1517" r="16.4" fill="none" stroke="#cf9aa0" stroke-width="1.1" stroke-dasharray="1 1.8"/>
<circle cx="926.8" cy="1508.7" r="3.8" fill="#a3222c"/>
<path d="M920.7,1512.6 Q926.5,1514.8 934.3,1511.6 Q930.5,1523 918.9,1526.6 Q927.1,1520.6 920.7,1512.6 Z" fill="#a3222c"/>
<rect x="561.20" y="1596.30" width="58.40" height="56.80" fill="#a5232c" />
<text transform="translate(590.3,1626.6) scale(1.07,1)" x="0" y="0" font-size="42.6" fill="#fff" text-anchor="middle" dominant-baseline="central" font-weight="bold">05</text>
<text x="636.0" y="1616.8" font-size="32.2" fill="#a3222c" text-anchor="start" dominant-baseline="central" font-weight="bold" >行业分析</text>
<line x1="635.80" y1="1643.40" x2="876.40" y2="1643.40" stroke="#2a2a2a" stroke-width="1" />
<text x="636.8" y="1662.3" font-size="11.6" fill="#333" text-anchor="start" dominant-baseline="central" >主要介绍企业所归属的产业领域的基本情况，</text>
<text x="636.8" y="1679.2" font-size="11.6" fill="#333" text-anchor="start" dominant-baseline="central" >以及企业在整个产业或行业中的地位。和同类</text>
<text x="636.8" y="1696.1" font-size="11.6" fill="#333" text-anchor="start" dominant-baseline="central" >型企业进行对比分析，做分析，表现企业的核</text>
<text x="636.8" y="1713.0" font-size="11.6" fill="#333" text-anchor="start" dominant-baseline="central" >心竞争优势。</text>
<text x="493.6" y="1828.3" font-size="7.6" fill="#fff" text-anchor="start" dominant-baseline="central" font-weight="bold" >51</text>
<text x="511.9" y="1828.6" font-size="6.6" fill="#fff" dominant-baseline="central">Business plan | <tspan font-weight="bold">商业计划书</tspan></text>
<text x="944.0" y="1829.3" font-size="6.0" fill="#b5b5b5" text-anchor="end" dominant-baseline="central" >www.pptgenius.com | 内部资料 禁止外传</text>
</svg>
</body></html>
